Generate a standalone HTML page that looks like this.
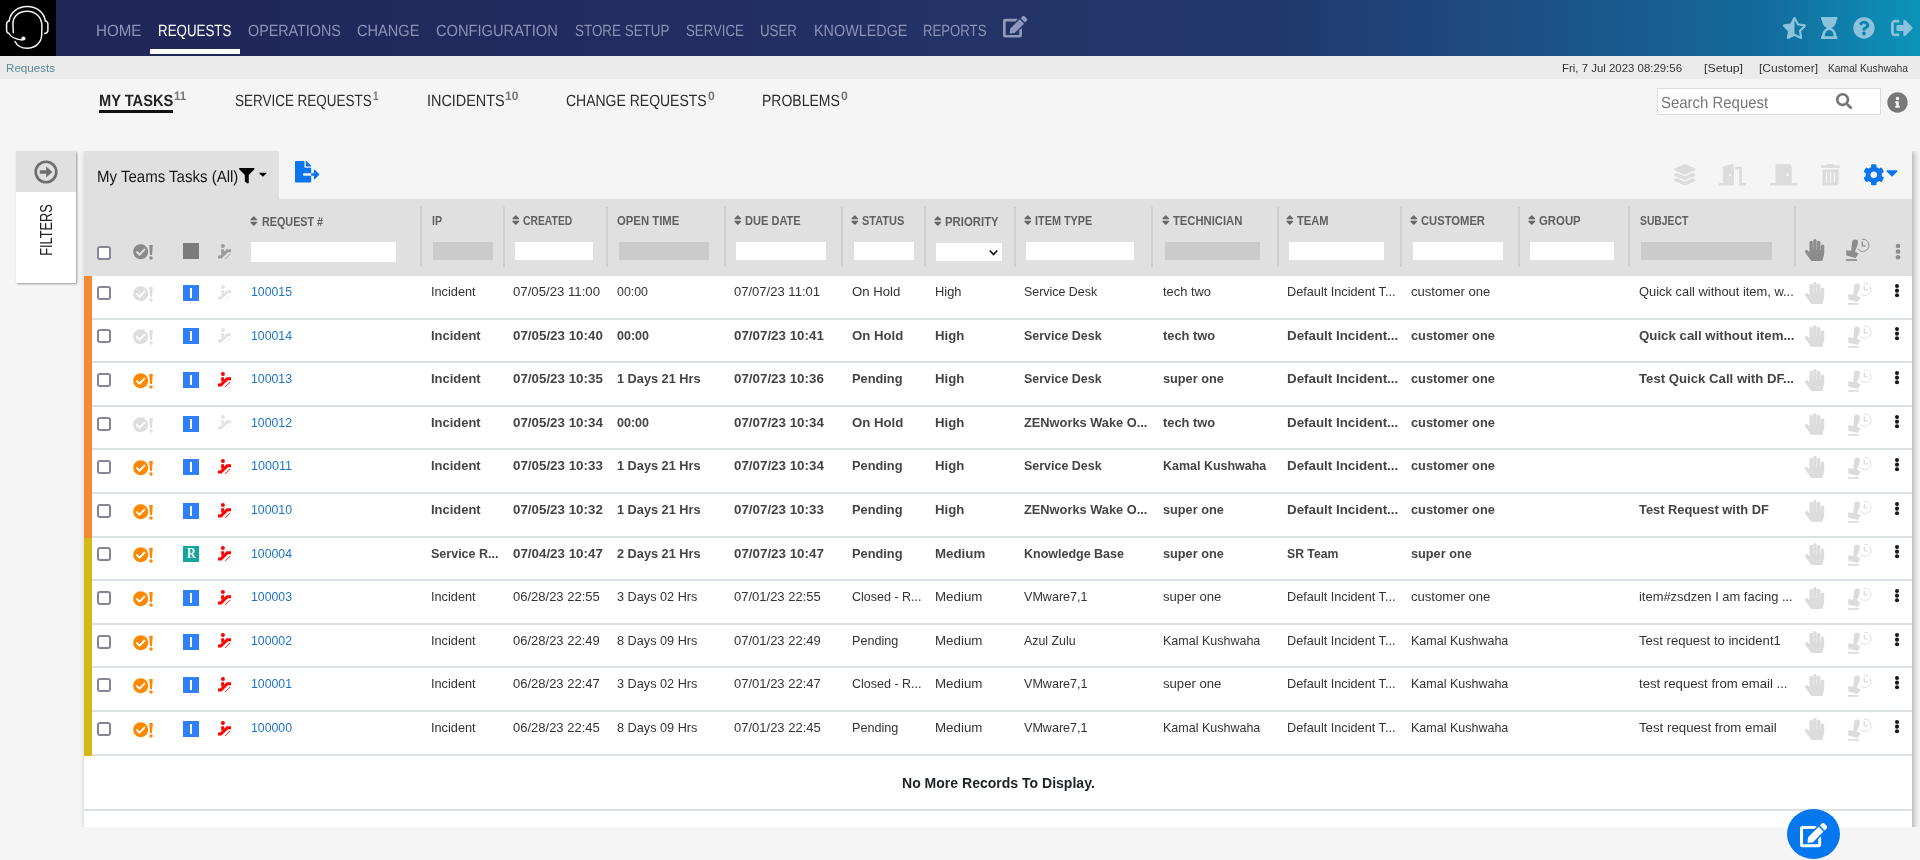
<!DOCTYPE html>
<html lang="en"><head><meta charset="utf-8"><title>Requests</title>
<style>
html,body{margin:0;padding:0}
body{width:1920px;height:860px;overflow:hidden;background:#f5f5f5;font-family:"Liberation Sans",sans-serif;position:relative}
.t{position:absolute;white-space:nowrap;line-height:1;transform-origin:0 84.65%;display:block}
.gp{text-rendering:geometricPrecision}
.i{position:absolute;display:block;overflow:visible}
.b{position:absolute;box-sizing:border-box}
#app{position:absolute;left:0;top:0;width:1920px;height:860px;overflow:hidden;will-change:transform}
</style></head>
<body>
<div id="app">
<div class="b" style="left:0px;top:0px;width:1920px;height:56px;background:linear-gradient(90deg,#1f2656 0px,#212b5f 560px,#233368 1000px,#22386d 1280px,#1c5387 1560px,#136a9c 1760px,#0c93b8 1920px)"></div>
<div class="b" style="left:0px;top:0px;width:56px;height:56px;background:#000"></div>
<svg class="i" style="left:0;top:0" width="56" height="56" viewBox="0 0 56 56" fill="none" stroke="#f2f2f2" stroke-width="1.5" stroke-linecap="round" stroke-linejoin="round">
<path d="M9.1 20.9 C10.5 12 18 6.6 27.2 6.6 C36.5 6.600 43.800 12 45.400 20.900"/>
<path d="M45.4 20.9 C47.200 21.400 47.900 22.400 47.900 24 L47.900 30 C47.900 32.200 46.800 33.300 44.800 33.600"/>
<path d="M9.1 20.9 C7.300 21.500 6.600 22.500 6.600 24 L6.600 30.400 C6.600 32 7.600 33 9.100 33.500 C10.800 37.200 15.500 39.300 22 39.900"/>
<path d="M13.3 32.8 L12.900 23.500 C13.300 15.500 19.500 11.200 27.200 11.200 C35.500 11.200 41.900 17 41.900 26 L41.700 35 C41.300 43 35 48.200 27.200 48.200 C21.500 48.200 17 45.500 15 41.500"/>
<circle cx="23.4" cy="38.500" r="2.100" fill="#f2f2f2" stroke="none"/>
</svg>
<span class="t gp" style="left:96.00px;top:23.20px;font-size:16.3px;color:#8c93b5;transform:scale(0.9305,1);">HOME</span>
<span class="t gp" style="left:158.00px;top:23.20px;font-size:16.3px;color:#ffffff;transform:scale(0.8197,1);">REQUESTS</span>
<span class="t gp" style="left:247.50px;top:23.20px;font-size:16.3px;color:#8c93b5;transform:scale(0.8801,1);">OPERATIONS</span>
<span class="t gp" style="left:356.50px;top:23.20px;font-size:16.3px;color:#8c93b5;transform:scale(0.8962,1);">CHANGE</span>
<span class="t gp" style="left:435.50px;top:23.20px;font-size:16.3px;color:#8c93b5;transform:scale(0.9002,1);">CONFIGURATION</span>
<span class="t gp" style="left:574.50px;top:23.20px;font-size:16.3px;color:#8c93b5;transform:scale(0.8237,1);">STORE SETUP</span>
<span class="t gp" style="left:686.00px;top:23.20px;font-size:16.3px;color:#8c93b5;transform:scale(0.8139,1);">SERVICE</span>
<span class="t gp" style="left:760.00px;top:23.20px;font-size:16.3px;color:#8c93b5;transform:scale(0.8170,1);">USER</span>
<span class="t gp" style="left:813.50px;top:23.20px;font-size:16.3px;color:#8c93b5;transform:scale(0.8823,1);">KNOWLEDGE</span>
<span class="t gp" style="left:923.00px;top:23.20px;font-size:16.3px;color:#8c93b5;transform:scale(0.8089,1);">REPORTS</span>
<div class="b" style="left:150px;top:49px;width:90px;height:5px;background:#fff"></div>
<svg class="i" style="left:1003.00px;top:16.20px;" width="24.30" height="21.60" viewBox="0 0 576 512"><path fill="#8f99bc" d="M402.6 83.2l90.2 90.2c3.8 3.8 3.8 10 0 13.8L274.4 405.6l-92.8 10.3c-12.4 1.4-22.9-9.1-21.5-21.5l10.3-92.8L388.8 83.2c3.8-3.8 10-3.8 13.8 0zm162-22.900l-48.8-48.8c-15.200-15.200-39.900-15.200-55.200 0l-35.400 35.400c-3.800 3.800-3.800 10 0 13.800l90.200 90.200c3.800 3.800 10 3.800 13.800 0l35.400-35.400c15.200-15.300 15.200-40 0-55.200zM384 346.200V448H64V128h229.800c3.200 0 6.200-1.300 8.500-3.500l40-40c7.600-7.600 2.200-20.500-8.500-20.500H48C21.500 64 0 85.500 0 112v352c0 26.500 21.500 48 48 48h352c26.500 0 48-21.500 48-48V306.200c0-10.700-12.900-16-20.500-8.500l-40 40c-2.200 2.300-3.500 5.300-3.500 8.500z"/></svg>
<svg class="i" style="left:1783.00px;top:17.00px;" width="23.03" height="22.00" viewBox="0 0 536 512"><path fill="#8cc3dc" d="M508.550 171.510L362.180 150.200 296.770 17.810C290.890 5.980 279.420 0 267.950 0c-11.400 0-22.790 5.900-28.690 17.810l-65.430 132.380-146.380 21.290c-26.250 3.800-36.770 36.090-17.740 54.590l105.890 103-25.060 145.480C86.980 495.330 103.570 512 122.150 512c4.930 0 10-1.170 14.870-3.750l130.950-68.680 130.940 68.700c4.860 2.550 9.920 3.710 14.830 3.710 18.600 0 35.220-16.610 31.660-37.400l-25.030-145.490 105.910-102.980c19.040-18.500 8.520-50.800-17.730-54.600zm-121.740 123.200l-18.120 17.620 4.280 24.880 19.520 113.450-102.130-53.590-22.380-11.740.030-317.190 51.030 103.290 11.180 22.630 25.010 3.640 114.230 16.630-82.650 80.380z"/></svg>
<svg class="i" style="left:1821.30px;top:17.00px;transform:scaleY(-1)" width="16.50" height="22.00" viewBox="0 0 384 512"><path fill="#8cc3dc" d="M360 64c13.255 0 24-10.745 24-24V24c0-13.255-10.745-24-24-24H24C10.745 0 0 10.745 0 24v16c0 13.255 10.745 24 24 24 0 90.965 51.016 167.734 120.842 192C75.016 280.266 24 357.035 24 448c-13.255 0-24 10.745-24 24v16c0 13.255 10.745 24 24 24h336c13.255 0 24-10.745 24-24v-16c0-13.255-10.745-24-24-24 0-90.965-51.016-167.734-120.842-192C308.984 231.734 360 154.965 360 64zM192 208c-57.787 0-104-66.518-104-144h208c0 77.945-46.510 144-104 144z"/></svg>
<svg class="i" style="left:1853.30px;top:17.20px;" width="22.00" height="22.00" viewBox="0 0 512 512"><path fill="#8cc3dc" d="M504 256c0 136.997-111.043 248-248 248S8 392.997 8 256C8 119.083 119.043 8 256 8s248 111.083 248 248zM262.655 90c-54.497 0-89.255 22.957-116.549 63.758-3.536 5.286-2.353 12.415 2.715 16.258l34.699 26.310c5.205 3.947 12.621 3.008 16.665-2.122 17.864-22.658 30.113-35.797 57.303-35.797 20.429 0 45.698 13.148 45.698 32.958 0 14.976-12.363 22.667-32.534 33.976C247.128 238.528 216 254.941 216 296v4c0 6.627 5.373 12 12 12h56c6.627 0 12-5.373 12-12v-1.333c0-28.462 83.186-29.647 83.186-106.667 0-58.002-60.165-102-116.531-102zM256 338c-25.365 0-46 20.635-46 46 0 25.364 20.635 46 46 46s46-20.636 46-46c0-25.365-20.635-46-46-46z"/></svg>
<svg class="i" style="left:1890.50px;top:17.00px;" width="22.00" height="22.00" viewBox="0 0 512 512"><path fill="#8cc3dc" d="M497 273L329 441c-15 15-41 4.500-41-17v-96H152c-13.300 0-24-10.700-24-24v-96c0-13.300 10.700-24 24-24h136V88c0-21.400 25.900-32 41-17l168 168c9.300 9.400 9.300 24.600 0 34zM192 436v-40c0-6.600-5.400-12-12-12H96c-17.700 0-32-14.300-32-32V160c0-17.700 14.300-32 32-32h84c6.600 0 12-5.400 12-12V76c0-6.600-5.400-12-12-12H96c-53 0-96 43-96 96v192c0 53 43 96 96 96h84c6.600 0 12-5.400 12-12z"/></svg>
<div class="b" style="left:0px;top:56px;width:1920px;height:23px;background:#ebebeb"></div>
<span class="t " style="left:6.00px;top:63.27px;font-size:11.5px;color:#5b8a9c;transform:scale(1.0086,1);">Requests</span>
<span class="t " style="left:1562.00px;top:62.99px;font-size:11px;color:#333;transform:scale(1.0382,1);">Fri, 7 Jul 2023 08:29:56</span>
<span class="t " style="left:1704.00px;top:62.99px;font-size:11px;color:#333;transform:scale(1.1188,1);">[Setup]</span>
<span class="t " style="left:1759.00px;top:62.99px;font-size:11px;color:#333;transform:scale(1.0968,1);">[Customer]</span>
<span class="t " style="left:1828.00px;top:62.99px;font-size:11px;color:#333;transform:scale(0.9345,1);">Kamal Kushwaha</span>
<span class="t gp" style="left:98.70px;top:93.20px;font-size:16.3px;color:#222;font-weight:bold;transform:scale(0.8982,1);">MY TASKS</span>
<div class="b" style="left:99px;top:110px;width:74px;height:3px;background:#111"></div>
<span class="t gp" style="left:173.80px;top:89.67px;font-size:12.2px;color:#757575;font-weight:bold;transform:scale(0.9459,1);">11</span>
<span class="t gp" style="left:234.70px;top:93.20px;font-size:16.3px;color:#2b2b2b;transform:scale(0.8268,1);">SERVICE REQUESTS</span>
<span class="t gp" style="left:372.60px;top:89.67px;font-size:12.2px;color:#757575;font-weight:bold;transform:scale(0.8106,1);">1</span>
<span class="t gp" style="left:426.70px;top:93.20px;font-size:16.3px;color:#2b2b2b;transform:scale(0.8856,1);">INCIDENTS</span>
<span class="t gp" style="left:505.20px;top:89.67px;font-size:12.2px;color:#757575;font-weight:bold;transform:scale(0.9801,1);">10</span>
<span class="t gp" style="left:566.20px;top:93.20px;font-size:16.3px;color:#2b2b2b;transform:scale(0.8589,1);">CHANGE REQUESTS</span>
<span class="t gp" style="left:708.00px;top:89.67px;font-size:12.2px;color:#757575;font-weight:bold;transform:scale(1.0022,1);">0</span>
<span class="t gp" style="left:762.20px;top:93.20px;font-size:16.3px;color:#2b2b2b;transform:scale(0.8589,1);">PROBLEMS</span>
<span class="t gp" style="left:841.00px;top:89.67px;font-size:12.2px;color:#757575;font-weight:bold;transform:scale(1.0022,1);">0</span>
<div class="b" style="left:1657px;top:88px;width:224px;height:27px;background:#fff;border:1px solid #dcdcdc"></div>
<span class="t gp" style="left:1660.80px;top:95.20px;font-size:16.3px;color:#767676;transform:scale(0.9180,1);">Search Request</span>
<svg class="i" style="left:1836.20px;top:93.00px;" width="16.30" height="16.30" viewBox="0 0 512 512"><path fill="#747474" d="M505 442.7L405.3 343c-4.500-4.500-10.600-7-17-7H372c27.600-35.300 44-79.700 44-128C416 93.100 322.900 0 208 0S0 93.100 0 208s93.100 208 208 208c48.300 0 92.700-16.400 128-44v16.300c0 6.400 2.500 12.500 7 17l99.700 99.700c9.400 9.400 24.600 9.400 33.900 0l28.300-28.300c9.400-9.400 9.400-24.600.1-34zM208 336c-70.700 0-128-57.200-128-128 0-70.700 57.200-128 128-128 70.700 0 128 57.200 128 128 0 70.700-57.200 128-128 128z"/></svg>
<svg class="i" style="left:1886.70px;top:91.70px;" width="21.00" height="21.00" viewBox="0 0 512 512"><path fill="#787878" d="M256 8C119.043 8 8 119.083 8 256c0 136.997 111.043 248 248 248s248-111.003 248-248C504 119.083 392.957 8 256 8zm0 110c23.196 0 42 18.804 42 42s-18.804 42-42 42-42-18.804-42-42 18.804-42 42-42zm56 254c0 6.627-5.373 12-12 12h-88c-6.627 0-12-5.373-12-12v-24c0-6.627 5.373-12 12-12h12v-64h-12c-6.627 0-12-5.373-12-12v-24c0-6.627 5.373-12 12-12h64c6.627 0 12 5.373 12 12v100h12c6.627 0 12 5.373 12 12v24z"/></svg>
<div class="b" style="left:0;top:151px;width:1920px;height:676px;overflow:hidden"><div class="b" style="left:84px;top:0;width:1828px;height:700px;background:#f5f5f5;box-shadow:2px 0 6px rgba(0,0,0,.30)"></div></div>
<div class="b" style="left:16px;top:151px;width:60px;height:132px;background:#fff;box-shadow:1px 1px 2px rgba(0,0,0,.38)"></div>
<div class="b" style="left:16px;top:151px;width:60px;height:41px;background:#e0e0e0"></div>
<svg class="i" style="left:33.5px;top:160px" width="24" height="24" viewBox="0 0 24 24"><circle cx="12" cy="12" r="10.300" fill="none" stroke="#6e6e6e" stroke-width="2.600"/><path fill="#6e6e6e" d="M5.800 10.300h6.400V6.500L18.400 12l-6.200 5.500v-3.800H5.800z"/></svg>
<span class="t" style="left:45.500px;top:230.300px;font-size:16.500px;color:#222;transform-origin:0 0;transform:translate(-50%,-50%) rotate(-90deg) scaleX(0.7730);transform-origin:50% 50%">FILTERS</span>
<div class="b" style="left:84px;top:151px;width:195px;height:48px;background:#e0e0e0"></div>
<span class="t gp" style="left:97.00px;top:169.20px;font-size:16.3px;color:#151515;transform:scale(0.9226,1);">My Teams Tasks (All)</span>
<svg class="i" style="left:239.00px;top:168.00px;" width="15.60" height="15.60" viewBox="0 0 512 512"><path fill="#000" d="M487.976 0H24.028C2.710 0-8.047 25.866 7.058 40.971L192 225.941V432c0 7.831 3.821 15.170 10.237 19.662l80 55.980C298.020 518.690 320 507.493 320 487.980V225.941l184.947-184.970C520.021 25.896 509.338 0 487.976 0z"/></svg>
<svg class="i" style="left:259.10px;top:168.20px;" width="7.75" height="12.40" viewBox="0 0 320 512"><path fill="#000" d="M31.300 192h257.300c17.800 0 26.700 21.500 14.100 34.100L174.100 354.800c-7.800 7.800-20.500 7.800-28.300 0L17.200 226.100C4.600 213.500 13.500 192 31.300 192z"/></svg>
<svg class="i" style="left:294.80px;top:161.30px;" width="24.30" height="21.60" viewBox="0 0 576 512"><path fill="#0b74ee" d="M384 121.900c0-6.300-2.500-12.400-7-16.900L279.100 7c-4.500-4.500-10.600-7-17-7H256v128h128zM571 308l-95.700-96.400c-10.100-10.100-27.400-3-27.400 11.300V288h-64v64h64v65.200c0 14.300 17.300 21.400 27.400 11.300L571 332c6.600-6.600 6.600-17.400 0-24zm-379 28v-32c0-8.800 7.200-16 16-16h176V160H248c-13.200 0-24-10.800-24-24V0H24C10.700 0 0 10.700 0 24v464c0 13.300 10.700 24 24 24h336c13.300 0 24-10.700 24-24V352H208c-8.800 0-16-7.200-16-16z"/></svg>
<svg class="i" style="left:1674.00px;top:164.40px;" width="21.60" height="21.60" viewBox="0 0 512 512"><path fill="#dcdcdc" d="M12.410 148.020l232.940 105.670c6.800 3.090 14.490 3.090 21.290 0l232.940-105.670c16.550-7.510 16.550-32.520 0-40.030L266.650 2.310a25.607 25.607 0 0 0-21.290 0L12.410 107.980c-16.550 7.510-16.550 32.530 0 40.040zm487.180 88.280l-58.090-26.330-161.640 73.270c-7.560 3.430-15.590 5.170-23.860 5.170s-16.290-1.740-23.860-5.170L70.510 209.970l-58.100 26.330c-16.550 7.500-16.550 32.500 0 40l232.940 105.590c6.800 3.080 14.490 3.080 21.290 0L499.590 276.300c16.550-7.500 16.550-32.500 0-40zm0 127.800l-57.870-26.230-161.860 73.370c-7.560 3.430-15.590 5.170-23.860 5.170s-16.290-1.740-23.860-5.170L70.290 337.870 12.410 364.100c-16.550 7.500-16.550 32.500 0 40l232.940 105.590c6.800 3.080 14.490 3.080 21.290 0L499.590 404.100c16.550-7.500 16.550-32.500 0-40z"/></svg>
<svg class="i" style="left:1719.40px;top:164.40px;" width="27.00" height="21.60" viewBox="0 0 640 512"><path fill="#dcdcdc" d="M624 448h-80V113.450C544 86.190 522.470 64 496 64H384v64h96v384h144c8.840 0 16-7.160 16-16v-32c0-8.840-7.160-16-16-16zM312.240 1.010l-192 49.740C105.990 54.440 96 67.700 96 82.920V448H16c-8.840 0-16 7.160-16 16v32c0 8.840 7.160 16 16 16h336V33.180c0-21.580-19.560-37.410-39.760-32.170zM264 288c-13.250 0-24-14.330-24-32s10.750-32 24-32 24 14.330 24 32-10.750 32-24 32z"/></svg>
<svg class="i" style="left:1769.80px;top:164.40px;" width="27.00" height="21.60" viewBox="0 0 640 512"><path fill="#dcdcdc" d="M624 448H512V50.800C512 22.780 490.470 0 464 0H175.990c-26.470 0-48 22.780-48 50.800V448H16c-8.840 0-16 7.160-16 16v32c0 8.840 7.160 16 16 16h608c8.840 0 16-7.160 16-16v-32c0-8.840-7.160-16-16-16zM415.990 288c-17.670 0-32-14.330-32-32s14.330-32 32-32 32 14.330 32 32c.010 17.670-14.320 32-32 32z"/></svg>
<svg class="i" style="left:1820.80px;top:164.40px;" width="18.90" height="21.60" viewBox="0 0 448 512"><path fill="#dcdcdc" d="M32 464a48 48 0 0 0 48 48h288a48 48 0 0 0 48-48V128H32zm272-256a16 16 0 0 1 32 0v224a16 16 0 0 1-32 0zm-96 0a16 16 0 0 1 32 0v224a16 16 0 0 1-32 0zm-96 0a16 16 0 0 1 32 0v224a16 16 0 0 1-32 0zM432 32H312l-9.400-18.700A24 24 0 0 0 281.100 0H166.800a23.720 23.720 0 0 0-21.400 13.300L136 32H16A16 16 0 0 0 0 48v32a16 16 0 0 0 16 16h416a16 16 0 0 0 16-16V48a16 16 0 0 0-16-16z"/></svg>
<svg class="i" style="left:1863.40px;top:164.40px;" width="21.60" height="21.60" viewBox="0 0 512 512"><path fill="#0b74ee" d="M487.400 315.700l-42.600-24.600c4.300-23.200 4.300-47 0-70.200l42.600-24.600c4.900-2.800 7.100-8.600 5.500-14-11.100-35.600-30-67.800-54.700-94.600-3.800-4.100-10-5.100-14.800-2.300L380.800 110c-17.900-15.400-38.500-27.300-60.800-35.100V25.800c0-5.600-3.900-10.500-9.400-11.700-36.700-8.200-74.300-7.800-109.200 0-5.500 1.200-9.400 6.100-9.400 11.700V75c-22.200 7.900-42.800 19.800-60.800 35.100L88.700 85.500c-4.900-2.800-11-1.900-14.800 2.300-24.700 26.700-43.600 58.900-54.700 94.600-1.700 5.400.6 11.200 5.500 14L67.300 221c-4.300 23.200-4.300 47 0 70.200l-42.600 24.600c-4.900 2.800-7.100 8.600-5.500 14 11.100 35.600 30 67.800 54.700 94.600 3.800 4.100 10 5.100 14.800 2.300l42.600-24.600c17.900 15.400 38.500 27.300 60.800 35.100v49.200c0 5.600 3.900 10.500 9.400 11.700 36.700 8.200 74.300 7.800 109.200 0 5.500-1.200 9.400-6.100 9.400-11.700v-49.200c22.200-7.900 42.800-19.800 60.800-35.100l42.600 24.600c4.900 2.800 11 1.900 14.800-2.300 24.700-26.700 43.600-58.900 54.700-94.600 1.500-5.500-.7-11.300-5.600-14.100zM256 336c-44.100 0-80-35.900-80-80s35.900-80 80-80 80 35.900 80 80-35.900 80-80 80z"/></svg>
<svg class="i" style="left:1885.50px;top:163.40px;" width="12.00" height="19.20" viewBox="0 0 320 512"><path fill="#0b74ee" d="M31.300 192h257.300c17.800 0 26.700 21.500 14.100 34.100L174.100 354.800c-7.800 7.800-20.500 7.800-28.300 0L17.200 226.100C4.600 213.500 13.500 192 31.300 192z"/></svg>
<div class="b" style="left:84px;top:199px;width:1828px;height:77px;background:#e0e0e0"></div>
<div class="b" style="left:420px;top:207px;width:2px;height:60px;background:#cfcfcf"></div>
<div class="b" style="left:503px;top:207px;width:2px;height:60px;background:#cfcfcf"></div>
<div class="b" style="left:606px;top:207px;width:2px;height:60px;background:#cfcfcf"></div>
<div class="b" style="left:724px;top:207px;width:2px;height:60px;background:#cfcfcf"></div>
<div class="b" style="left:841px;top:207px;width:2px;height:60px;background:#cfcfcf"></div>
<div class="b" style="left:924px;top:207px;width:2px;height:60px;background:#cfcfcf"></div>
<div class="b" style="left:1014px;top:207px;width:2px;height:60px;background:#cfcfcf"></div>
<div class="b" style="left:1151px;top:207px;width:2px;height:60px;background:#cfcfcf"></div>
<div class="b" style="left:1277px;top:207px;width:2px;height:60px;background:#cfcfcf"></div>
<div class="b" style="left:1400px;top:207px;width:2px;height:60px;background:#cfcfcf"></div>
<div class="b" style="left:1518px;top:207px;width:2px;height:60px;background:#cfcfcf"></div>
<div class="b" style="left:1628px;top:207px;width:2px;height:60px;background:#cfcfcf"></div>
<div class="b" style="left:1794px;top:207px;width:2px;height:60px;background:#cfcfcf"></div>
<svg class="i" style="left:250.10px;top:215.40px;" width="7.62" height="12.20" viewBox="0 0 320 512"><path fill="#666" d="M41 288h238c21.400 0 32.100 25.900 17 41L177 448c-9.400 9.400-24.600 9.400-33.900 0L24 329c-15.100-15.100-4.400-41 17-41zm255-105L177 64c-9.400-9.400-24.600-9.400-33.900 0L24 183c-15.100 15.100-4.400 41 17 41h238c21.400 0 32.100-25.900 17-41z"/></svg>
<span class="t " style="left:262.00px;top:216.33px;font-size:12.6px;color:#5f5f5f;font-weight:bold;transform:scale(0.8555,1);">REQUEST #</span>
<span class="t " style="left:431.50px;top:215.33px;font-size:12.6px;color:#5f5f5f;font-weight:bold;transform:scale(0.8400,1);">IP</span>
<svg class="i" style="left:512.40px;top:214.40px;" width="7.62" height="12.20" viewBox="0 0 320 512"><path fill="#666" d="M41 288h238c21.400 0 32.100 25.900 17 41L177 448c-9.400 9.400-24.600 9.400-33.900 0L24 329c-15.100-15.100-4.400-41 17-41zm255-105L177 64c-9.400-9.400-24.600-9.400-33.900 0L24 183c-15.100 15.100-4.400 41 17 41h238c21.400 0 32.100-25.900 17-41z"/></svg>
<span class="t " style="left:523.40px;top:215.33px;font-size:12.6px;color:#5f5f5f;font-weight:bold;transform:scale(0.8221,1);">CREATED</span>
<span class="t " style="left:617.20px;top:215.33px;font-size:12.6px;color:#5f5f5f;font-weight:bold;transform:scale(0.8989,1);">OPEN TIME</span>
<svg class="i" style="left:734.10px;top:214.40px;" width="7.62" height="12.20" viewBox="0 0 320 512"><path fill="#666" d="M41 288h238c21.400 0 32.100 25.900 17 41L177 448c-9.400 9.400-24.600 9.400-33.900 0L24 329c-15.100-15.100-4.400-41 17-41zm255-105L177 64c-9.400-9.400-24.600-9.400-33.900 0L24 183c-15.100 15.100-4.400 41 17 41h238c21.400 0 32.100-25.900 17-41z"/></svg>
<span class="t " style="left:744.70px;top:215.33px;font-size:12.6px;color:#5f5f5f;font-weight:bold;transform:scale(0.8776,1);">DUE DATE</span>
<svg class="i" style="left:851.40px;top:214.40px;" width="7.62" height="12.20" viewBox="0 0 320 512"><path fill="#666" d="M41 288h238c21.400 0 32.100 25.900 17 41L177 448c-9.400 9.400-24.600 9.400-33.900 0L24 329c-15.100-15.100-4.400-41 17-41zm255-105L177 64c-9.400-9.400-24.600-9.400-33.900 0L24 183c-15.100 15.100-4.400 41 17 41h238c21.400 0 32.100-25.900 17-41z"/></svg>
<span class="t " style="left:861.70px;top:215.33px;font-size:12.6px;color:#5f5f5f;font-weight:bold;transform:scale(0.8737,1);">STATUS</span>
<svg class="i" style="left:934.40px;top:215.40px;" width="7.62" height="12.20" viewBox="0 0 320 512"><path fill="#666" d="M41 288h238c21.400 0 32.100 25.900 17 41L177 448c-9.400 9.400-24.600 9.400-33.900 0L24 329c-15.100-15.100-4.400-41 17-41zm255-105L177 64c-9.400-9.400-24.600-9.400-33.900 0L24 183c-15.100 15.100-4.400 41 17 41h238c21.400 0 32.100-25.900 17-41z"/></svg>
<span class="t " style="left:944.70px;top:216.33px;font-size:12.6px;color:#5f5f5f;font-weight:bold;transform:scale(0.9024,1);">PRIORITY</span>
<svg class="i" style="left:1023.80px;top:214.40px;" width="7.62" height="12.20" viewBox="0 0 320 512"><path fill="#666" d="M41 288h238c21.400 0 32.100 25.900 17 41L177 448c-9.400 9.400-24.600 9.400-33.900 0L24 329c-15.100-15.100-4.400-41 17-41zm255-105L177 64c-9.400-9.400-24.600-9.400-33.900 0L24 183c-15.100 15.100-4.400 41 17 41h238c21.400 0 32.100-25.900 17-41z"/></svg>
<span class="t " style="left:1034.70px;top:215.33px;font-size:12.6px;color:#5f5f5f;font-weight:bold;transform:scale(0.8631,1);">ITEM TYPE</span>
<svg class="i" style="left:1161.80px;top:214.40px;" width="7.62" height="12.20" viewBox="0 0 320 512"><path fill="#666" d="M41 288h238c21.400 0 32.100 25.900 17 41L177 448c-9.400 9.400-24.600 9.400-33.900 0L24 329c-15.100-15.100-4.400-41 17-41zm255-105L177 64c-9.400-9.400-24.600-9.400-33.900 0L24 183c-15.100 15.100-4.400 41 17 41h238c21.400 0 32.100-25.900 17-41z"/></svg>
<span class="t " style="left:1172.70px;top:215.33px;font-size:12.6px;color:#5f5f5f;font-weight:bold;transform:scale(0.8932,1);">TECHNICIAN</span>
<svg class="i" style="left:1285.80px;top:214.40px;" width="7.62" height="12.20" viewBox="0 0 320 512"><path fill="#666" d="M41 288h238c21.400 0 32.100 25.900 17 41L177 448c-9.400 9.400-24.600 9.400-33.900 0L24 329c-15.100-15.100-4.400-41 17-41zm255-105L177 64c-9.400-9.400-24.600-9.400-33.900 0L24 183c-15.100 15.100-4.400 41 17 41h238c21.400 0 32.100-25.900 17-41z"/></svg>
<span class="t " style="left:1296.70px;top:215.33px;font-size:12.6px;color:#5f5f5f;font-weight:bold;transform:scale(0.8796,1);">TEAM</span>
<svg class="i" style="left:1410.40px;top:214.40px;" width="7.62" height="12.20" viewBox="0 0 320 512"><path fill="#666" d="M41 288h238c21.400 0 32.100 25.900 17 41L177 448c-9.400 9.400-24.600 9.400-33.900 0L24 329c-15.100-15.100-4.400-41 17-41zm255-105L177 64c-9.400-9.400-24.600-9.400-33.900 0L24 183c-15.100 15.100-4.400 41 17 41h238c21.400 0 32.100-25.900 17-41z"/></svg>
<span class="t " style="left:1421.40px;top:215.33px;font-size:12.6px;color:#5f5f5f;font-weight:bold;transform:scale(0.8905,1);">CUSTOMER</span>
<svg class="i" style="left:1528.10px;top:214.40px;" width="7.62" height="12.20" viewBox="0 0 320 512"><path fill="#666" d="M41 288h238c21.400 0 32.100 25.900 17 41L177 448c-9.400 9.400-24.600 9.400-33.900 0L24 329c-15.100-15.100-4.400-41 17-41zm255-105L177 64c-9.400-9.400-24.600-9.400-33.900 0L24 183c-15.100 15.100-4.400 41 17 41h238c21.400 0 32.100-25.900 17-41z"/></svg>
<span class="t " style="left:1538.70px;top:215.33px;font-size:12.6px;color:#5f5f5f;font-weight:bold;transform:scale(0.9025,1);">GROUP</span>
<span class="t " style="left:1639.50px;top:215.33px;font-size:12.6px;color:#5f5f5f;font-weight:bold;transform:scale(0.8213,1);">SUBJECT</span>
<div class="b" style="left:251px;top:242px;width:145px;height:20px;background:#fff"></div>
<div class="b" style="left:433px;top:242px;width:60px;height:18px;background:#cbcbcb"></div>
<div class="b" style="left:515px;top:242px;width:78px;height:18px;background:#fff"></div>
<div class="b" style="left:619px;top:242px;width:90px;height:18px;background:#cbcbcb"></div>
<div class="b" style="left:736px;top:242px;width:90px;height:18px;background:#fff"></div>
<div class="b" style="left:854px;top:242px;width:60px;height:18px;background:#fff"></div>
<div class="b" style="left:1026px;top:242px;width:108px;height:18px;background:#fff"></div>
<div class="b" style="left:1165px;top:242px;width:95px;height:18px;background:#cbcbcb"></div>
<div class="b" style="left:1289px;top:242px;width:95px;height:18px;background:#fff"></div>
<div class="b" style="left:1413px;top:242px;width:90px;height:18px;background:#fff"></div>
<div class="b" style="left:1530px;top:242px;width:84px;height:18px;background:#fff"></div>
<div class="b" style="left:1641px;top:242px;width:131px;height:18px;background:#cbcbcb"></div>
<div class="b" style="left:936px;top:243px;width:66px;height:18px;background:#fff"></div>
<svg class="i" style="left:987.500px;top:248.800px" width="11" height="8" viewBox="0 0 11 8"><path d="M1.800 1.500L5.500 5.500 9.200 1.500" fill="none" stroke="#111" stroke-width="1.600"/></svg>
<div class="b" style="left:97.3px;top:246.3px;width:13.5px;height:13.5px;background:#fff;border:2px solid #85859a;border-radius:3px"></div>
<svg class="i" style="left:132.80px;top:244.20px;" width="15.40" height="15.40" viewBox="0 0 512 512"><path fill="#8a8a8a" d="M504 256c0 136.967-111.033 248-248 248S8 392.967 8 256 119.033 8 256 8s248 111.033 248 248zM227.314 387.314l184-184c6.248-6.248 6.248-16.379 0-22.627l-22.627-22.627c-6.248-6.249-16.379-6.249-22.628 0L216 308.118l-70.059-70.059c-6.248-6.248-16.379-6.248-22.628 0l-22.627 22.627c-6.248 6.248-6.248 16.379 0 22.627l104 104c6.249 6.249 16.379 6.249 22.628.001z"/></svg>
<svg class="i" style="left:149.2px;top:244.7px" width="4" height="15" viewBox="0 0 4 15"><path fill="#8a8a8a" d="M0.200 0h3.600L3 10H1z"/><circle cx="2" cy="12.900" r="1.750" fill="#8a8a8a"/></svg>
<div class="b" style="left:183px;top:243px;width:16px;height:16px;background:#7b7b7b"></div>
<svg class="i" style="left:218px;top:243.8px" width="13" height="16" viewBox="0 0 13 16"><circle cx="4.900" cy="2.100" r="2" fill="#9a9a9a"/><path fill="#9a9a9a" d="M3.200 5.300h2.900v2.600L4.300 9.800l-1.100-.3z"/><path fill="#9a9a9a" d="M0 11.500h2.300L8.600 5.200H13v3H9.800L3.500 14.500H0z"/><path d="M7.200 15L12.300 9.900" stroke="#9a9a9a" stroke-width="0.900" fill="none"/></svg>
<svg class="i" style="left:1804.80px;top:239.00px;" width="19.25" height="22.00" viewBox="0 0 448 512"><path fill="#8c8c8c" d="M408.781 128.007C386.356 127.578 368 146.360 368 168.790V256h-8V79.790c0-22.430-18.356-41.212-40.781-40.783C297.488 39.423 280 57.169 280 79v177h-8V40.790C272 18.360 253.644-.422 231.219.007 209.488.423 192 18.169 192 40v216h-8V80.790c0-22.430-18.356-41.212-40.781-40.783C121.488 40.423 104 58.169 104 80v235.992l-31.648-43.519c-12.993-17.866-38.009-21.817-55.877-8.823-17.865 12.994-21.815 38.010-8.822 55.877l125.601 172.705A48 48 0 0 0 172.073 512h197.590c22.274 0 41.622-15.324 46.724-37.006l26.508-112.660a192.011 192.011 0 0 0 5.104-43.975V168c.001-21.831-17.487-39.577-39.218-39.993z"/></svg>
<svg class="i" style="left:1840px;top:234px" width="36" height="32" viewBox="0 0 36 32"><path fill="#8c8c8c" d="M12.100 8.200Q12.200 5.500 15.100 5.500Q18.200 5.600 18 8.500C17.600 12 15.900 15 14.900 17.500L18.600 19.500L15.600 24L6.300 21.600L6.100 16.200L11.200 16.700Z"/><rect x="5.950" y="25.100" width="11" height="1.700" fill="#8c8c8c"/><path d="M22.170 5.340A6 6 0 1 1 17.980 14.740" fill="none" stroke="#8c8c8c" stroke-width="0.950"/><path d="M22.300 7.400V11.900H25.800" fill="none" stroke="#8c8c8c" stroke-width="1.400"/></svg>
<svg class="i" style="left:1894.6px;top:243.4px" width="6" height="17.2" viewBox="0 0 6 17.2"><circle cx="3" cy="3" r="2.3" fill="#8c8c8c"/><circle cx="3" cy="8.6" r="2.3" fill="#8c8c8c"/><circle cx="3" cy="14.2" r="2.3" fill="#8c8c8c"/></svg>
<div class="b" style="left:84px;top:276px;width:1828px;height:551px;background:#fff"></div>
<div class="b" style="left:88px;top:275px;width:1824px;height:1px;background:#d9dfe6"></div>
<div class="b" style="left:84px;top:276px;width:8px;height:44px;background:#f58a34"></div>
<div class="b" style="left:92px;top:318px;width:1820px;height:2px;background:#dce1e6"></div>
<div class="b" style="left:97.3px;top:286px;width:13.5px;height:13.5px;background:#fff;border:2px solid #85859a;border-radius:3px"></div>
<svg class="i" style="left:132.80px;top:286.00px;" width="15.40" height="15.40" viewBox="0 0 512 512"><path fill="#dedede" d="M504 256c0 136.967-111.033 248-248 248S8 392.967 8 256 119.033 8 256 8s248 111.033 248 248zM227.314 387.314l184-184c6.248-6.248 6.248-16.379 0-22.627l-22.627-22.627c-6.248-6.249-16.379-6.249-22.628 0L216 308.118l-70.059-70.059c-6.248-6.248-16.379-6.248-22.628 0l-22.627 22.627c-6.248 6.248-6.248 16.379 0 22.627l104 104c6.249 6.249 16.379 6.249 22.628.001z"/></svg>
<svg class="i" style="left:149.2px;top:286.5px" width="4" height="15" viewBox="0 0 4 15"><path fill="#dedede" d="M0.200 0h3.600L3 10H1z"/><circle cx="2" cy="12.900" r="1.750" fill="#dedede"/></svg>
<div class="b" style="left:183px;top:285px;width:16px;height:16px;background:#2f80fa"></div>
<div class="b" style="left:189.7px;top:288px;width:2px;height:10px;background:#fff"></div>
<svg class="i" style="left:218px;top:285px" width="13" height="16" viewBox="0 0 13 16"><circle cx="4.900" cy="2.100" r="2" fill="#e2e2e2"/><path fill="#e2e2e2" d="M3.200 5.300h2.900v2.600L4.300 9.800l-1.100-.3z"/><path fill="#e2e2e2" d="M0 11.500h2.300L8.600 5.200H13v3H9.800L3.500 14.500H0z"/><path d="M7.200 15L12.300 9.900" stroke="#e2e2e2" stroke-width="0.900" fill="none"/></svg>
<span class="t " style="left:251.30px;top:285.10px;font-size:13px;color:#1b75cc;transform:scale(0.9451,1);">100015</span>
<span class="t " style="left:431.20px;top:285.10px;font-size:13px;color:#333;transform:scale(0.9795,1);">Incident</span>
<span class="t " style="left:513.00px;top:285.10px;font-size:13px;color:#333;transform:scale(1.0142,1);">07/05/23 11:00</span>
<span class="t " style="left:617.00px;top:285.10px;font-size:13px;color:#333;transform:scale(0.9529,1);">00:00</span>
<span class="t " style="left:734.00px;top:285.10px;font-size:13px;color:#333;transform:scale(1.0025,1);">07/07/23 11:01</span>
<span class="t " style="left:852.30px;top:285.10px;font-size:13px;color:#333;transform:scale(1.0128,1);">On Hold</span>
<span class="t " style="left:935.20px;top:285.10px;font-size:13px;color:#333;transform:scale(0.9911,1);">High</span>
<span class="t " style="left:1024.20px;top:285.10px;font-size:13px;color:#333;transform:scale(0.9546,1);">Service Desk</span>
<span class="t " style="left:1163.20px;top:285.10px;font-size:13px;color:#333;transform:scale(0.9914,1);">tech two</span>
<span class="t " style="left:1287.30px;top:285.10px;font-size:13px;color:#333;transform:scale(0.9770,1);">Default Incident T...</span>
<span class="t " style="left:1411.20px;top:285.10px;font-size:13px;color:#333;transform:scale(1.0055,1);">customer one</span>
<span class="t " style="left:1639.00px;top:285.10px;font-size:13px;color:#333;transform:scale(0.9919,1);">Quick call without item, w...</span>
<svg class="i" style="left:1805.00px;top:282.00px;" width="19.25" height="22.00" viewBox="0 0 448 512"><path fill="#dcdcdc" d="M408.781 128.007C386.356 127.578 368 146.360 368 168.790V256h-8V79.790c0-22.430-18.356-41.212-40.781-40.783C297.488 39.423 280 57.169 280 79v177h-8V40.790C272 18.360 253.644-.422 231.219.007 209.488.423 192 18.169 192 40v216h-8V80.790c0-22.430-18.356-41.212-40.781-40.783C121.488 40.423 104 58.169 104 80v235.992l-31.648-43.519c-12.993-17.866-38.009-21.817-55.877-8.823-17.865 12.994-21.815 38.010-8.822 55.877l125.601 172.705A48 48 0 0 0 172.073 512h197.590c22.274 0 41.622-15.324 46.724-37.006l26.508-112.660a192.011 192.011 0 0 0 5.104-43.975V168c.001-21.831-17.487-39.577-39.218-39.993z"/></svg>
<svg class="i" style="left:1841.8px;top:278px" width="36" height="32" viewBox="0 0 36 32"><path fill="#dcdcdc" d="M12.100 8.200Q12.200 5.500 15.100 5.500Q18.200 5.600 18 8.500C17.600 12 15.900 15 14.900 17.500L18.600 19.500L15.600 24L6.300 21.600L6.100 16.200L11.200 16.700Z"/><rect x="5.950" y="25.100" width="11" height="1.700" fill="#dcdcdc"/><path d="M22.170 5.340A6 6 0 1 1 17.980 14.740" fill="none" stroke="#dcdcdc" stroke-width="0.950"/><path d="M22.300 7.400V11.900H25.800" fill="none" stroke="#dcdcdc" stroke-width="1.400"/></svg>
<svg class="i" style="left:1894.1px;top:283.35px" width="6" height="15.3" viewBox="0 0 6 15.3"><circle cx="3" cy="3" r="2.05" fill="#16181b"/><circle cx="3" cy="7.65" r="2.05" fill="#16181b"/><circle cx="3" cy="12.3" r="2.05" fill="#16181b"/></svg>
<div class="b" style="left:84px;top:320px;width:8px;height:43px;background:#f58a34"></div>
<div class="b" style="left:92px;top:361px;width:1820px;height:2px;background:#dce1e6"></div>
<div class="b" style="left:97.3px;top:329px;width:13.5px;height:13.5px;background:#fff;border:2px solid #85859a;border-radius:3px"></div>
<svg class="i" style="left:132.80px;top:329.00px;" width="15.40" height="15.40" viewBox="0 0 512 512"><path fill="#dedede" d="M504 256c0 136.967-111.033 248-248 248S8 392.967 8 256 119.033 8 256 8s248 111.033 248 248zM227.314 387.314l184-184c6.248-6.248 6.248-16.379 0-22.627l-22.627-22.627c-6.248-6.249-16.379-6.249-22.628 0L216 308.118l-70.059-70.059c-6.248-6.248-16.379-6.248-22.628 0l-22.627 22.627c-6.248 6.248-6.248 16.379 0 22.627l104 104c6.249 6.249 16.379 6.249 22.628.001z"/></svg>
<svg class="i" style="left:149.2px;top:329.5px" width="4" height="15" viewBox="0 0 4 15"><path fill="#dedede" d="M0.200 0h3.600L3 10H1z"/><circle cx="2" cy="12.900" r="1.750" fill="#dedede"/></svg>
<div class="b" style="left:183px;top:328px;width:16px;height:16px;background:#2f80fa"></div>
<div class="b" style="left:189.7px;top:331px;width:2px;height:10px;background:#fff"></div>
<svg class="i" style="left:218px;top:328px" width="13" height="16" viewBox="0 0 13 16"><circle cx="4.900" cy="2.100" r="2" fill="#e2e2e2"/><path fill="#e2e2e2" d="M3.200 5.300h2.900v2.600L4.300 9.800l-1.100-.3z"/><path fill="#e2e2e2" d="M0 11.500h2.300L8.600 5.200H13v3H9.800L3.500 14.500H0z"/><path d="M7.200 15L12.300 9.900" stroke="#e2e2e2" stroke-width="0.900" fill="none"/></svg>
<span class="t " style="left:251.30px;top:329.10px;font-size:13px;color:#1b75cc;transform:scale(0.9451,1);">100014</span>
<span class="t " style="left:431.20px;top:329.10px;font-size:13px;color:#444;font-weight:bold;transform:scale(0.9952,1);">Incident</span>
<span class="t " style="left:513.00px;top:329.10px;font-size:13px;color:#444;font-weight:bold;transform:scale(1.0267,1);">07/05/23 10:40</span>
<span class="t " style="left:617.00px;top:329.10px;font-size:13px;color:#444;font-weight:bold;transform:scale(0.9624,1);">00:00</span>
<span class="t " style="left:734.00px;top:329.10px;font-size:13px;color:#444;font-weight:bold;transform:scale(1.0267,1);">07/07/23 10:41</span>
<span class="t " style="left:852.30px;top:329.10px;font-size:13px;color:#444;font-weight:bold;transform:scale(1.0149,1);">On Hold</span>
<span class="t " style="left:935.20px;top:329.10px;font-size:13px;color:#444;font-weight:bold;transform:scale(1.0144,1);">High</span>
<span class="t " style="left:1024.20px;top:329.10px;font-size:13px;color:#444;font-weight:bold;transform:scale(0.9586,1);">Service Desk</span>
<span class="t " style="left:1163.20px;top:329.10px;font-size:13px;color:#444;font-weight:bold;transform:scale(0.9900,1);">tech two</span>
<span class="t " style="left:1287.30px;top:329.10px;font-size:13px;color:#444;font-weight:bold;transform:scale(1.0263,1);">Default Incident...</span>
<span class="t " style="left:1411.20px;top:329.10px;font-size:13px;color:#444;font-weight:bold;transform:scale(0.9830,1);">customer one</span>
<span class="t " style="left:1639.00px;top:329.10px;font-size:13px;color:#444;font-weight:bold;transform:scale(1.0202,1);">Quick call without item...</span>
<svg class="i" style="left:1805.00px;top:325.00px;" width="19.25" height="22.00" viewBox="0 0 448 512"><path fill="#dcdcdc" d="M408.781 128.007C386.356 127.578 368 146.360 368 168.790V256h-8V79.790c0-22.430-18.356-41.212-40.781-40.783C297.488 39.423 280 57.169 280 79v177h-8V40.790C272 18.360 253.644-.422 231.219.007 209.488.423 192 18.169 192 40v216h-8V80.790c0-22.430-18.356-41.212-40.781-40.783C121.488 40.423 104 58.169 104 80v235.992l-31.648-43.519c-12.993-17.866-38.009-21.817-55.877-8.823-17.865 12.994-21.815 38.010-8.822 55.877l125.601 172.705A48 48 0 0 0 172.073 512h197.590c22.274 0 41.622-15.324 46.724-37.006l26.508-112.660a192.011 192.011 0 0 0 5.104-43.975V168c.001-21.831-17.487-39.577-39.218-39.993z"/></svg>
<svg class="i" style="left:1841.8px;top:321px" width="36" height="32" viewBox="0 0 36 32"><path fill="#dcdcdc" d="M12.100 8.200Q12.200 5.500 15.100 5.500Q18.200 5.600 18 8.500C17.600 12 15.900 15 14.900 17.500L18.600 19.500L15.600 24L6.300 21.600L6.100 16.200L11.200 16.700Z"/><rect x="5.950" y="25.100" width="11" height="1.700" fill="#dcdcdc"/><path d="M22.170 5.340A6 6 0 1 1 17.980 14.740" fill="none" stroke="#dcdcdc" stroke-width="0.950"/><path d="M22.300 7.400V11.900H25.800" fill="none" stroke="#dcdcdc" stroke-width="1.400"/></svg>
<svg class="i" style="left:1894.1px;top:326.35px" width="6" height="15.3" viewBox="0 0 6 15.3"><circle cx="3" cy="3" r="2.05" fill="#16181b"/><circle cx="3" cy="7.65" r="2.05" fill="#16181b"/><circle cx="3" cy="12.3" r="2.05" fill="#16181b"/></svg>
<div class="b" style="left:84px;top:363px;width:8px;height:44px;background:#f58a34"></div>
<div class="b" style="left:92px;top:405px;width:1820px;height:2px;background:#dce1e6"></div>
<div class="b" style="left:97.3px;top:373px;width:13.5px;height:13.5px;background:#fff;border:2px solid #85859a;border-radius:3px"></div>
<svg class="i" style="left:132.80px;top:373.00px;" width="15.40" height="15.40" viewBox="0 0 512 512"><path fill="#ff8800" d="M504 256c0 136.967-111.033 248-248 248S8 392.967 8 256 119.033 8 256 8s248 111.033 248 248zM227.314 387.314l184-184c6.248-6.248 6.248-16.379 0-22.627l-22.627-22.627c-6.248-6.249-16.379-6.249-22.628 0L216 308.118l-70.059-70.059c-6.248-6.248-16.379-6.248-22.628 0l-22.627 22.627c-6.248 6.248-6.248 16.379 0 22.627l104 104c6.249 6.249 16.379 6.249 22.628.001z"/></svg>
<svg class="i" style="left:149.2px;top:373.5px" width="4" height="15" viewBox="0 0 4 15"><path fill="#ff8800" d="M0.200 0h3.600L3 10H1z"/><circle cx="2" cy="12.900" r="1.750" fill="#ff8800"/></svg>
<div class="b" style="left:183px;top:372px;width:16px;height:16px;background:#2f80fa"></div>
<div class="b" style="left:189.7px;top:375px;width:2px;height:10px;background:#fff"></div>
<svg class="i" style="left:218px;top:372px" width="13" height="16" viewBox="0 0 13 16"><circle cx="4.900" cy="2.100" r="2" fill="#ff0000"/><path fill="#ff0000" d="M3.200 5.300h2.900v2.600L4.300 9.800l-1.100-.3z"/><path fill="#ff0000" d="M0 11.500h2.300L8.600 5.200H13v3H9.800L3.500 14.500H0z"/><path d="M7.200 15L12.300 9.900" stroke="#ff0000" stroke-width="0.900" fill="none"/></svg>
<span class="t " style="left:251.30px;top:372.10px;font-size:13px;color:#1b75cc;transform:scale(0.9451,1);">100013</span>
<span class="t " style="left:431.20px;top:372.10px;font-size:13px;color:#444;font-weight:bold;transform:scale(0.9952,1);">Incident</span>
<span class="t " style="left:513.00px;top:372.10px;font-size:13px;color:#444;font-weight:bold;transform:scale(1.0267,1);">07/05/23 10:35</span>
<span class="t " style="left:617.00px;top:372.10px;font-size:13px;color:#444;font-weight:bold;transform:scale(0.9791,1);">1 Days 21 Hrs</span>
<span class="t " style="left:734.00px;top:372.10px;font-size:13px;color:#444;font-weight:bold;transform:scale(1.0267,1);">07/07/23 10:36</span>
<span class="t " style="left:852.30px;top:372.10px;font-size:13px;color:#444;font-weight:bold;transform:scale(0.9848,1);">Pending</span>
<span class="t " style="left:935.20px;top:372.10px;font-size:13px;color:#444;font-weight:bold;transform:scale(1.0144,1);">High</span>
<span class="t " style="left:1024.20px;top:372.10px;font-size:13px;color:#444;font-weight:bold;transform:scale(0.9586,1);">Service Desk</span>
<span class="t " style="left:1163.20px;top:372.10px;font-size:13px;color:#444;font-weight:bold;transform:scale(0.9786,1);">super one</span>
<span class="t " style="left:1287.30px;top:372.10px;font-size:13px;color:#444;font-weight:bold;transform:scale(1.0263,1);">Default Incident...</span>
<span class="t " style="left:1411.20px;top:372.10px;font-size:13px;color:#444;font-weight:bold;transform:scale(0.9830,1);">customer one</span>
<span class="t " style="left:1639.00px;top:372.10px;font-size:13px;color:#444;font-weight:bold;transform:scale(1.0137,1);">Test Quick Call with DF...</span>
<svg class="i" style="left:1805.00px;top:369.00px;" width="19.25" height="22.00" viewBox="0 0 448 512"><path fill="#dcdcdc" d="M408.781 128.007C386.356 127.578 368 146.360 368 168.790V256h-8V79.790c0-22.430-18.356-41.212-40.781-40.783C297.488 39.423 280 57.169 280 79v177h-8V40.790C272 18.360 253.644-.422 231.219.007 209.488.423 192 18.169 192 40v216h-8V80.790c0-22.430-18.356-41.212-40.781-40.783C121.488 40.423 104 58.169 104 80v235.992l-31.648-43.519c-12.993-17.866-38.009-21.817-55.877-8.823-17.865 12.994-21.815 38.010-8.822 55.877l125.601 172.705A48 48 0 0 0 172.073 512h197.590c22.274 0 41.622-15.324 46.724-37.006l26.508-112.660a192.011 192.011 0 0 0 5.104-43.975V168c.001-21.831-17.487-39.577-39.218-39.993z"/></svg>
<svg class="i" style="left:1841.8px;top:365px" width="36" height="32" viewBox="0 0 36 32"><path fill="#dcdcdc" d="M12.100 8.200Q12.200 5.500 15.100 5.500Q18.200 5.600 18 8.500C17.600 12 15.900 15 14.900 17.500L18.600 19.500L15.600 24L6.300 21.600L6.100 16.200L11.200 16.700Z"/><rect x="5.950" y="25.100" width="11" height="1.700" fill="#dcdcdc"/><path d="M22.170 5.340A6 6 0 1 1 17.980 14.740" fill="none" stroke="#dcdcdc" stroke-width="0.950"/><path d="M22.300 7.400V11.900H25.800" fill="none" stroke="#dcdcdc" stroke-width="1.400"/></svg>
<svg class="i" style="left:1894.1px;top:370.35px" width="6" height="15.3" viewBox="0 0 6 15.3"><circle cx="3" cy="3" r="2.05" fill="#16181b"/><circle cx="3" cy="7.65" r="2.05" fill="#16181b"/><circle cx="3" cy="12.3" r="2.05" fill="#16181b"/></svg>
<div class="b" style="left:84px;top:407px;width:8px;height:43px;background:#f58a34"></div>
<div class="b" style="left:92px;top:448px;width:1820px;height:2px;background:#dce1e6"></div>
<div class="b" style="left:97.3px;top:417px;width:13.5px;height:13.5px;background:#fff;border:2px solid #85859a;border-radius:3px"></div>
<svg class="i" style="left:132.80px;top:417.00px;" width="15.40" height="15.40" viewBox="0 0 512 512"><path fill="#dedede" d="M504 256c0 136.967-111.033 248-248 248S8 392.967 8 256 119.033 8 256 8s248 111.033 248 248zM227.314 387.314l184-184c6.248-6.248 6.248-16.379 0-22.627l-22.627-22.627c-6.248-6.249-16.379-6.249-22.628 0L216 308.118l-70.059-70.059c-6.248-6.248-16.379-6.248-22.628 0l-22.627 22.627c-6.248 6.248-6.248 16.379 0 22.627l104 104c6.249 6.249 16.379 6.249 22.628.001z"/></svg>
<svg class="i" style="left:149.2px;top:417.5px" width="4" height="15" viewBox="0 0 4 15"><path fill="#dedede" d="M0.200 0h3.600L3 10H1z"/><circle cx="2" cy="12.900" r="1.750" fill="#dedede"/></svg>
<div class="b" style="left:183px;top:416px;width:16px;height:16px;background:#2f80fa"></div>
<div class="b" style="left:189.7px;top:419px;width:2px;height:10px;background:#fff"></div>
<svg class="i" style="left:218px;top:415px" width="13" height="16" viewBox="0 0 13 16"><circle cx="4.900" cy="2.100" r="2" fill="#e2e2e2"/><path fill="#e2e2e2" d="M3.200 5.300h2.900v2.600L4.300 9.800l-1.100-.3z"/><path fill="#e2e2e2" d="M0 11.500h2.300L8.600 5.200H13v3H9.800L3.500 14.500H0z"/><path d="M7.200 15L12.300 9.900" stroke="#e2e2e2" stroke-width="0.900" fill="none"/></svg>
<span class="t " style="left:251.30px;top:416.10px;font-size:13px;color:#1b75cc;transform:scale(0.9451,1);">100012</span>
<span class="t " style="left:431.20px;top:416.10px;font-size:13px;color:#444;font-weight:bold;transform:scale(0.9952,1);">Incident</span>
<span class="t " style="left:513.00px;top:416.10px;font-size:13px;color:#444;font-weight:bold;transform:scale(1.0267,1);">07/05/23 10:34</span>
<span class="t " style="left:617.00px;top:416.10px;font-size:13px;color:#444;font-weight:bold;transform:scale(0.9624,1);">00:00</span>
<span class="t " style="left:734.00px;top:416.10px;font-size:13px;color:#444;font-weight:bold;transform:scale(1.0267,1);">07/07/23 10:34</span>
<span class="t " style="left:852.30px;top:416.10px;font-size:13px;color:#444;font-weight:bold;transform:scale(1.0149,1);">On Hold</span>
<span class="t " style="left:935.20px;top:416.10px;font-size:13px;color:#444;font-weight:bold;transform:scale(1.0144,1);">High</span>
<span class="t " style="left:1024.20px;top:416.10px;font-size:13px;color:#444;font-weight:bold;transform:scale(0.9854,1);">ZENworks Wake O...</span>
<span class="t " style="left:1163.20px;top:416.10px;font-size:13px;color:#444;font-weight:bold;transform:scale(0.9900,1);">tech two</span>
<span class="t " style="left:1287.30px;top:416.10px;font-size:13px;color:#444;font-weight:bold;transform:scale(1.0263,1);">Default Incident...</span>
<span class="t " style="left:1411.20px;top:416.10px;font-size:13px;color:#444;font-weight:bold;transform:scale(0.9830,1);">customer one</span>
<svg class="i" style="left:1805.00px;top:413.00px;" width="19.25" height="22.00" viewBox="0 0 448 512"><path fill="#dcdcdc" d="M408.781 128.007C386.356 127.578 368 146.360 368 168.790V256h-8V79.790c0-22.430-18.356-41.212-40.781-40.783C297.488 39.423 280 57.169 280 79v177h-8V40.790C272 18.360 253.644-.422 231.219.007 209.488.423 192 18.169 192 40v216h-8V80.790c0-22.430-18.356-41.212-40.781-40.783C121.488 40.423 104 58.169 104 80v235.992l-31.648-43.519c-12.993-17.866-38.009-21.817-55.877-8.823-17.865 12.994-21.815 38.010-8.822 55.877l125.601 172.705A48 48 0 0 0 172.073 512h197.590c22.274 0 41.622-15.324 46.724-37.006l26.508-112.660a192.011 192.011 0 0 0 5.104-43.975V168c.001-21.831-17.487-39.577-39.218-39.993z"/></svg>
<svg class="i" style="left:1841.8px;top:409px" width="36" height="32" viewBox="0 0 36 32"><path fill="#dcdcdc" d="M12.100 8.200Q12.200 5.500 15.100 5.500Q18.200 5.600 18 8.500C17.600 12 15.900 15 14.900 17.500L18.600 19.500L15.600 24L6.300 21.600L6.100 16.200L11.200 16.700Z"/><rect x="5.950" y="25.100" width="11" height="1.700" fill="#dcdcdc"/><path d="M22.170 5.340A6 6 0 1 1 17.980 14.740" fill="none" stroke="#dcdcdc" stroke-width="0.950"/><path d="M22.300 7.400V11.900H25.800" fill="none" stroke="#dcdcdc" stroke-width="1.400"/></svg>
<svg class="i" style="left:1894.1px;top:414.35px" width="6" height="15.3" viewBox="0 0 6 15.3"><circle cx="3" cy="3" r="2.05" fill="#16181b"/><circle cx="3" cy="7.65" r="2.05" fill="#16181b"/><circle cx="3" cy="12.3" r="2.05" fill="#16181b"/></svg>
<div class="b" style="left:84px;top:450px;width:8px;height:44px;background:#f58a34"></div>
<div class="b" style="left:92px;top:492px;width:1820px;height:2px;background:#dce1e6"></div>
<div class="b" style="left:97.3px;top:460px;width:13.5px;height:13.5px;background:#fff;border:2px solid #85859a;border-radius:3px"></div>
<svg class="i" style="left:132.80px;top:460.00px;" width="15.40" height="15.40" viewBox="0 0 512 512"><path fill="#ff8800" d="M504 256c0 136.967-111.033 248-248 248S8 392.967 8 256 119.033 8 256 8s248 111.033 248 248zM227.314 387.314l184-184c6.248-6.248 6.248-16.379 0-22.627l-22.627-22.627c-6.248-6.249-16.379-6.249-22.628 0L216 308.118l-70.059-70.059c-6.248-6.248-16.379-6.248-22.628 0l-22.627 22.627c-6.248 6.248-6.248 16.379 0 22.627l104 104c6.249 6.249 16.379 6.249 22.628.001z"/></svg>
<svg class="i" style="left:149.2px;top:460.5px" width="4" height="15" viewBox="0 0 4 15"><path fill="#ff8800" d="M0.200 0h3.600L3 10H1z"/><circle cx="2" cy="12.900" r="1.750" fill="#ff8800"/></svg>
<div class="b" style="left:183px;top:459px;width:16px;height:16px;background:#2f80fa"></div>
<div class="b" style="left:189.7px;top:462px;width:2px;height:10px;background:#fff"></div>
<svg class="i" style="left:218px;top:459px" width="13" height="16" viewBox="0 0 13 16"><circle cx="4.900" cy="2.100" r="2" fill="#ff0000"/><path fill="#ff0000" d="M3.200 5.300h2.900v2.600L4.300 9.800l-1.100-.3z"/><path fill="#ff0000" d="M0 11.500h2.300L8.600 5.200H13v3H9.800L3.500 14.500H0z"/><path d="M7.200 15L12.300 9.900" stroke="#ff0000" stroke-width="0.900" fill="none"/></svg>
<span class="t " style="left:251.30px;top:459.10px;font-size:13px;color:#1b75cc;transform:scale(0.9666,1);">100011</span>
<span class="t " style="left:431.20px;top:459.10px;font-size:13px;color:#444;font-weight:bold;transform:scale(0.9952,1);">Incident</span>
<span class="t " style="left:513.00px;top:459.10px;font-size:13px;color:#444;font-weight:bold;transform:scale(1.0267,1);">07/05/23 10:33</span>
<span class="t " style="left:617.00px;top:459.10px;font-size:13px;color:#444;font-weight:bold;transform:scale(0.9791,1);">1 Days 21 Hrs</span>
<span class="t " style="left:734.00px;top:459.10px;font-size:13px;color:#444;font-weight:bold;transform:scale(1.0267,1);">07/07/23 10:34</span>
<span class="t " style="left:852.30px;top:459.10px;font-size:13px;color:#444;font-weight:bold;transform:scale(0.9848,1);">Pending</span>
<span class="t " style="left:935.20px;top:459.10px;font-size:13px;color:#444;font-weight:bold;transform:scale(1.0144,1);">High</span>
<span class="t " style="left:1024.20px;top:459.10px;font-size:13px;color:#444;font-weight:bold;transform:scale(0.9586,1);">Service Desk</span>
<span class="t " style="left:1163.20px;top:459.10px;font-size:13px;color:#444;font-weight:bold;transform:scale(0.9596,1);">Kamal Kushwaha</span>
<span class="t " style="left:1287.30px;top:459.10px;font-size:13px;color:#444;font-weight:bold;transform:scale(1.0263,1);">Default Incident...</span>
<span class="t " style="left:1411.20px;top:459.10px;font-size:13px;color:#444;font-weight:bold;transform:scale(0.9830,1);">customer one</span>
<svg class="i" style="left:1805.00px;top:456.00px;" width="19.25" height="22.00" viewBox="0 0 448 512"><path fill="#dcdcdc" d="M408.781 128.007C386.356 127.578 368 146.360 368 168.790V256h-8V79.790c0-22.430-18.356-41.212-40.781-40.783C297.488 39.423 280 57.169 280 79v177h-8V40.790C272 18.360 253.644-.422 231.219.007 209.488.423 192 18.169 192 40v216h-8V80.790c0-22.430-18.356-41.212-40.781-40.783C121.488 40.423 104 58.169 104 80v235.992l-31.648-43.519c-12.993-17.866-38.009-21.817-55.877-8.823-17.865 12.994-21.815 38.010-8.822 55.877l125.601 172.705A48 48 0 0 0 172.073 512h197.590c22.274 0 41.622-15.324 46.724-37.006l26.508-112.660a192.011 192.011 0 0 0 5.104-43.975V168c.001-21.831-17.487-39.577-39.218-39.993z"/></svg>
<svg class="i" style="left:1841.8px;top:452px" width="36" height="32" viewBox="0 0 36 32"><path fill="#dcdcdc" d="M12.100 8.200Q12.200 5.500 15.100 5.500Q18.200 5.600 18 8.500C17.600 12 15.900 15 14.900 17.500L18.600 19.500L15.600 24L6.300 21.600L6.100 16.200L11.200 16.700Z"/><rect x="5.950" y="25.100" width="11" height="1.700" fill="#dcdcdc"/><path d="M22.170 5.340A6 6 0 1 1 17.980 14.740" fill="none" stroke="#dcdcdc" stroke-width="0.950"/><path d="M22.300 7.400V11.900H25.800" fill="none" stroke="#dcdcdc" stroke-width="1.400"/></svg>
<svg class="i" style="left:1894.1px;top:457.35px" width="6" height="15.3" viewBox="0 0 6 15.3"><circle cx="3" cy="3" r="2.05" fill="#16181b"/><circle cx="3" cy="7.65" r="2.05" fill="#16181b"/><circle cx="3" cy="12.3" r="2.05" fill="#16181b"/></svg>
<div class="b" style="left:84px;top:494px;width:8px;height:44px;background:#f58a34"></div>
<div class="b" style="left:92px;top:536px;width:1820px;height:2px;background:#dce1e6"></div>
<div class="b" style="left:97.3px;top:504px;width:13.5px;height:13.5px;background:#fff;border:2px solid #85859a;border-radius:3px"></div>
<svg class="i" style="left:132.80px;top:504.00px;" width="15.40" height="15.40" viewBox="0 0 512 512"><path fill="#ff8800" d="M504 256c0 136.967-111.033 248-248 248S8 392.967 8 256 119.033 8 256 8s248 111.033 248 248zM227.314 387.314l184-184c6.248-6.248 6.248-16.379 0-22.627l-22.627-22.627c-6.248-6.249-16.379-6.249-22.628 0L216 308.118l-70.059-70.059c-6.248-6.248-16.379-6.248-22.628 0l-22.627 22.627c-6.248 6.248-6.248 16.379 0 22.627l104 104c6.249 6.249 16.379 6.249 22.628.001z"/></svg>
<svg class="i" style="left:149.2px;top:504.5px" width="4" height="15" viewBox="0 0 4 15"><path fill="#ff8800" d="M0.200 0h3.600L3 10H1z"/><circle cx="2" cy="12.900" r="1.750" fill="#ff8800"/></svg>
<div class="b" style="left:183px;top:503px;width:16px;height:16px;background:#2f80fa"></div>
<div class="b" style="left:189.7px;top:506px;width:2px;height:10px;background:#fff"></div>
<svg class="i" style="left:218px;top:503px" width="13" height="16" viewBox="0 0 13 16"><circle cx="4.900" cy="2.100" r="2" fill="#ff0000"/><path fill="#ff0000" d="M3.200 5.300h2.900v2.600L4.300 9.800l-1.100-.3z"/><path fill="#ff0000" d="M0 11.500h2.300L8.600 5.200H13v3H9.800L3.500 14.500H0z"/><path d="M7.200 15L12.300 9.900" stroke="#ff0000" stroke-width="0.900" fill="none"/></svg>
<span class="t " style="left:251.30px;top:503.10px;font-size:13px;color:#1b75cc;transform:scale(0.9451,1);">100010</span>
<span class="t " style="left:431.20px;top:503.10px;font-size:13px;color:#444;font-weight:bold;transform:scale(0.9952,1);">Incident</span>
<span class="t " style="left:513.00px;top:503.10px;font-size:13px;color:#444;font-weight:bold;transform:scale(1.0267,1);">07/05/23 10:32</span>
<span class="t " style="left:617.00px;top:503.10px;font-size:13px;color:#444;font-weight:bold;transform:scale(0.9791,1);">1 Days 21 Hrs</span>
<span class="t " style="left:734.00px;top:503.10px;font-size:13px;color:#444;font-weight:bold;transform:scale(1.0267,1);">07/07/23 10:33</span>
<span class="t " style="left:852.30px;top:503.10px;font-size:13px;color:#444;font-weight:bold;transform:scale(0.9848,1);">Pending</span>
<span class="t " style="left:935.20px;top:503.10px;font-size:13px;color:#444;font-weight:bold;transform:scale(1.0144,1);">High</span>
<span class="t " style="left:1024.20px;top:503.10px;font-size:13px;color:#444;font-weight:bold;transform:scale(0.9854,1);">ZENworks Wake O...</span>
<span class="t " style="left:1163.20px;top:503.10px;font-size:13px;color:#444;font-weight:bold;transform:scale(0.9786,1);">super one</span>
<span class="t " style="left:1287.30px;top:503.10px;font-size:13px;color:#444;font-weight:bold;transform:scale(1.0263,1);">Default Incident...</span>
<span class="t " style="left:1411.20px;top:503.10px;font-size:13px;color:#444;font-weight:bold;transform:scale(0.9830,1);">customer one</span>
<span class="t " style="left:1639.00px;top:503.10px;font-size:13px;color:#444;font-weight:bold;transform:scale(0.9892,1);">Test Request with DF</span>
<svg class="i" style="left:1805.00px;top:500.00px;" width="19.25" height="22.00" viewBox="0 0 448 512"><path fill="#dcdcdc" d="M408.781 128.007C386.356 127.578 368 146.360 368 168.790V256h-8V79.790c0-22.430-18.356-41.212-40.781-40.783C297.488 39.423 280 57.169 280 79v177h-8V40.790C272 18.360 253.644-.422 231.219.007 209.488.423 192 18.169 192 40v216h-8V80.790c0-22.430-18.356-41.212-40.781-40.783C121.488 40.423 104 58.169 104 80v235.992l-31.648-43.519c-12.993-17.866-38.009-21.817-55.877-8.823-17.865 12.994-21.815 38.010-8.822 55.877l125.601 172.705A48 48 0 0 0 172.073 512h197.590c22.274 0 41.622-15.324 46.724-37.006l26.508-112.660a192.011 192.011 0 0 0 5.104-43.975V168c.001-21.831-17.487-39.577-39.218-39.993z"/></svg>
<svg class="i" style="left:1841.8px;top:496px" width="36" height="32" viewBox="0 0 36 32"><path fill="#dcdcdc" d="M12.100 8.200Q12.200 5.500 15.100 5.500Q18.200 5.600 18 8.500C17.600 12 15.900 15 14.900 17.500L18.600 19.500L15.600 24L6.300 21.600L6.100 16.200L11.200 16.700Z"/><rect x="5.950" y="25.100" width="11" height="1.700" fill="#dcdcdc"/><path d="M22.170 5.340A6 6 0 1 1 17.980 14.740" fill="none" stroke="#dcdcdc" stroke-width="0.950"/><path d="M22.300 7.400V11.900H25.800" fill="none" stroke="#dcdcdc" stroke-width="1.400"/></svg>
<svg class="i" style="left:1894.1px;top:501.35px" width="6" height="15.3" viewBox="0 0 6 15.3"><circle cx="3" cy="3" r="2.05" fill="#16181b"/><circle cx="3" cy="7.65" r="2.05" fill="#16181b"/><circle cx="3" cy="12.3" r="2.05" fill="#16181b"/></svg>
<div class="b" style="left:84px;top:538px;width:8px;height:43px;background:#d4b815"></div>
<div class="b" style="left:92px;top:579px;width:1820px;height:2px;background:#dce1e6"></div>
<div class="b" style="left:97.3px;top:547px;width:13.5px;height:13.5px;background:#fff;border:2px solid #85859a;border-radius:3px"></div>
<svg class="i" style="left:132.80px;top:547.00px;" width="15.40" height="15.40" viewBox="0 0 512 512"><path fill="#ff8800" d="M504 256c0 136.967-111.033 248-248 248S8 392.967 8 256 119.033 8 256 8s248 111.033 248 248zM227.314 387.314l184-184c6.248-6.248 6.248-16.379 0-22.627l-22.627-22.627c-6.248-6.249-16.379-6.249-22.628 0L216 308.118l-70.059-70.059c-6.248-6.248-16.379-6.248-22.628 0l-22.627 22.627c-6.248 6.248-6.248 16.379 0 22.627l104 104c6.249 6.249 16.379 6.249 22.628.001z"/></svg>
<svg class="i" style="left:149.2px;top:547.5px" width="4" height="15" viewBox="0 0 4 15"><path fill="#ff8800" d="M0.200 0h3.600L3 10H1z"/><circle cx="2" cy="12.900" r="1.750" fill="#ff8800"/></svg>
<div class="b" style="left:183px;top:546px;width:16px;height:16px;background:#14a79d"></div>
<span class="t" style="left:186.600px;top:547.2px;font-family:'Liberation Serif',serif;font-weight:bold;font-size:14px;color:#fff;transform:scaleX(0.88);transform-origin:0 0">R</span>
<svg class="i" style="left:218px;top:546px" width="13" height="16" viewBox="0 0 13 16"><circle cx="4.900" cy="2.100" r="2" fill="#ff0000"/><path fill="#ff0000" d="M3.200 5.300h2.900v2.600L4.300 9.800l-1.100-.3z"/><path fill="#ff0000" d="M0 11.500h2.300L8.600 5.200H13v3H9.800L3.500 14.500H0z"/><path d="M7.200 15L12.300 9.900" stroke="#ff0000" stroke-width="0.900" fill="none"/></svg>
<span class="t " style="left:251.30px;top:547.10px;font-size:13px;color:#1b75cc;transform:scale(0.9451,1);">100004</span>
<span class="t " style="left:431.20px;top:547.10px;font-size:13px;color:#444;font-weight:bold;transform:scale(0.9629,1);">Service R...</span>
<span class="t " style="left:513.00px;top:547.10px;font-size:13px;color:#444;font-weight:bold;transform:scale(1.0267,1);">07/04/23 10:47</span>
<span class="t " style="left:617.00px;top:547.10px;font-size:13px;color:#444;font-weight:bold;transform:scale(0.9791,1);">2 Days 21 Hrs</span>
<span class="t " style="left:734.00px;top:547.10px;font-size:13px;color:#444;font-weight:bold;transform:scale(1.0267,1);">07/07/23 10:47</span>
<span class="t " style="left:852.30px;top:547.10px;font-size:13px;color:#444;font-weight:bold;transform:scale(0.9848,1);">Pending</span>
<span class="t " style="left:935.20px;top:547.10px;font-size:13px;color:#444;font-weight:bold;transform:scale(1.0221,1);">Medium</span>
<span class="t " style="left:1024.20px;top:547.10px;font-size:13px;color:#444;font-weight:bold;transform:scale(0.9603,1);">Knowledge Base</span>
<span class="t " style="left:1163.20px;top:547.10px;font-size:13px;color:#444;font-weight:bold;transform:scale(0.9786,1);">super one</span>
<span class="t " style="left:1287.30px;top:547.10px;font-size:13px;color:#444;font-weight:bold;transform:scale(0.9402,1);">SR Team</span>
<span class="t " style="left:1411.20px;top:547.10px;font-size:13px;color:#444;font-weight:bold;transform:scale(0.9786,1);">super one</span>
<svg class="i" style="left:1805.00px;top:543.00px;" width="19.25" height="22.00" viewBox="0 0 448 512"><path fill="#dcdcdc" d="M408.781 128.007C386.356 127.578 368 146.360 368 168.790V256h-8V79.790c0-22.430-18.356-41.212-40.781-40.783C297.488 39.423 280 57.169 280 79v177h-8V40.790C272 18.360 253.644-.422 231.219.007 209.488.423 192 18.169 192 40v216h-8V80.790c0-22.430-18.356-41.212-40.781-40.783C121.488 40.423 104 58.169 104 80v235.992l-31.648-43.519c-12.993-17.866-38.009-21.817-55.877-8.823-17.865 12.994-21.815 38.010-8.822 55.877l125.601 172.705A48 48 0 0 0 172.073 512h197.590c22.274 0 41.622-15.324 46.724-37.006l26.508-112.660a192.011 192.011 0 0 0 5.104-43.975V168c.001-21.831-17.487-39.577-39.218-39.993z"/></svg>
<svg class="i" style="left:1841.8px;top:539px" width="36" height="32" viewBox="0 0 36 32"><path fill="#dcdcdc" d="M12.100 8.200Q12.200 5.500 15.100 5.500Q18.200 5.600 18 8.500C17.600 12 15.900 15 14.900 17.500L18.600 19.500L15.600 24L6.300 21.600L6.100 16.200L11.200 16.700Z"/><rect x="5.950" y="25.100" width="11" height="1.700" fill="#dcdcdc"/><path d="M22.170 5.340A6 6 0 1 1 17.980 14.740" fill="none" stroke="#dcdcdc" stroke-width="0.950"/><path d="M22.300 7.400V11.900H25.800" fill="none" stroke="#dcdcdc" stroke-width="1.400"/></svg>
<svg class="i" style="left:1894.1px;top:544.35px" width="6" height="15.3" viewBox="0 0 6 15.3"><circle cx="3" cy="3" r="2.05" fill="#16181b"/><circle cx="3" cy="7.65" r="2.05" fill="#16181b"/><circle cx="3" cy="12.3" r="2.05" fill="#16181b"/></svg>
<div class="b" style="left:84px;top:581px;width:8px;height:44px;background:#d4b815"></div>
<div class="b" style="left:92px;top:623px;width:1820px;height:2px;background:#dce1e6"></div>
<div class="b" style="left:97.3px;top:591px;width:13.5px;height:13.5px;background:#fff;border:2px solid #85859a;border-radius:3px"></div>
<svg class="i" style="left:132.80px;top:591.00px;" width="15.40" height="15.40" viewBox="0 0 512 512"><path fill="#ff8800" d="M504 256c0 136.967-111.033 248-248 248S8 392.967 8 256 119.033 8 256 8s248 111.033 248 248zM227.314 387.314l184-184c6.248-6.248 6.248-16.379 0-22.627l-22.627-22.627c-6.248-6.249-16.379-6.249-22.628 0L216 308.118l-70.059-70.059c-6.248-6.248-16.379-6.248-22.628 0l-22.627 22.627c-6.248 6.248-6.248 16.379 0 22.627l104 104c6.249 6.249 16.379 6.249 22.628.001z"/></svg>
<svg class="i" style="left:149.2px;top:591.5px" width="4" height="15" viewBox="0 0 4 15"><path fill="#ff8800" d="M0.200 0h3.600L3 10H1z"/><circle cx="2" cy="12.900" r="1.750" fill="#ff8800"/></svg>
<div class="b" style="left:183px;top:590px;width:16px;height:16px;background:#2f80fa"></div>
<div class="b" style="left:189.7px;top:593px;width:2px;height:10px;background:#fff"></div>
<svg class="i" style="left:218px;top:590px" width="13" height="16" viewBox="0 0 13 16"><circle cx="4.900" cy="2.100" r="2" fill="#ff0000"/><path fill="#ff0000" d="M3.200 5.300h2.900v2.600L4.300 9.800l-1.100-.3z"/><path fill="#ff0000" d="M0 11.500h2.300L8.600 5.200H13v3H9.800L3.500 14.500H0z"/><path d="M7.200 15L12.300 9.900" stroke="#ff0000" stroke-width="0.900" fill="none"/></svg>
<span class="t " style="left:251.30px;top:590.10px;font-size:13px;color:#1b75cc;transform:scale(0.9451,1);">100003</span>
<span class="t " style="left:431.20px;top:590.10px;font-size:13px;color:#333;transform:scale(0.9795,1);">Incident</span>
<span class="t " style="left:513.00px;top:590.10px;font-size:13px;color:#333;">06/28/23 22:55</span>
<span class="t " style="left:617.00px;top:590.10px;font-size:13px;color:#333;transform:scale(0.9762,1);">3 Days 02 Hrs</span>
<span class="t " style="left:734.00px;top:590.10px;font-size:13px;color:#333;">07/01/23 22:55</span>
<span class="t " style="left:852.30px;top:590.10px;font-size:13px;color:#333;transform:scale(0.9620,1);">Closed - R...</span>
<span class="t " style="left:935.20px;top:590.10px;font-size:13px;color:#333;transform:scale(1.0251,1);">Medium</span>
<span class="t " style="left:1024.20px;top:590.10px;font-size:13px;color:#333;transform:scale(0.9673,1);">VMware7,1</span>
<span class="t " style="left:1163.20px;top:590.10px;font-size:13px;color:#333;transform:scale(1.0083,1);">super one</span>
<span class="t " style="left:1287.30px;top:590.10px;font-size:13px;color:#333;transform:scale(0.9770,1);">Default Incident T...</span>
<span class="t " style="left:1411.20px;top:590.10px;font-size:13px;color:#333;transform:scale(1.0055,1);">customer one</span>
<span class="t " style="left:1639.00px;top:590.10px;font-size:13px;color:#333;transform:scale(0.9940,1);">item#zsdzen I am facing ...</span>
<svg class="i" style="left:1805.00px;top:587.00px;" width="19.25" height="22.00" viewBox="0 0 448 512"><path fill="#dcdcdc" d="M408.781 128.007C386.356 127.578 368 146.360 368 168.790V256h-8V79.790c0-22.430-18.356-41.212-40.781-40.783C297.488 39.423 280 57.169 280 79v177h-8V40.790C272 18.360 253.644-.422 231.219.007 209.488.423 192 18.169 192 40v216h-8V80.790c0-22.430-18.356-41.212-40.781-40.783C121.488 40.423 104 58.169 104 80v235.992l-31.648-43.519c-12.993-17.866-38.009-21.817-55.877-8.823-17.865 12.994-21.815 38.010-8.822 55.877l125.601 172.705A48 48 0 0 0 172.073 512h197.590c22.274 0 41.622-15.324 46.724-37.006l26.508-112.660a192.011 192.011 0 0 0 5.104-43.975V168c.001-21.831-17.487-39.577-39.218-39.993z"/></svg>
<svg class="i" style="left:1841.8px;top:583px" width="36" height="32" viewBox="0 0 36 32"><path fill="#dcdcdc" d="M12.100 8.200Q12.200 5.500 15.100 5.500Q18.200 5.600 18 8.500C17.600 12 15.900 15 14.900 17.500L18.600 19.500L15.600 24L6.300 21.600L6.100 16.200L11.200 16.700Z"/><rect x="5.950" y="25.100" width="11" height="1.700" fill="#dcdcdc"/><path d="M22.170 5.340A6 6 0 1 1 17.980 14.740" fill="none" stroke="#dcdcdc" stroke-width="0.950"/><path d="M22.300 7.400V11.900H25.800" fill="none" stroke="#dcdcdc" stroke-width="1.400"/></svg>
<svg class="i" style="left:1894.1px;top:588.35px" width="6" height="15.3" viewBox="0 0 6 15.3"><circle cx="3" cy="3" r="2.05" fill="#16181b"/><circle cx="3" cy="7.65" r="2.05" fill="#16181b"/><circle cx="3" cy="12.3" r="2.05" fill="#16181b"/></svg>
<div class="b" style="left:84px;top:625px;width:8px;height:43px;background:#d4b815"></div>
<div class="b" style="left:92px;top:666px;width:1820px;height:2px;background:#dce1e6"></div>
<div class="b" style="left:97.3px;top:635px;width:13.5px;height:13.5px;background:#fff;border:2px solid #85859a;border-radius:3px"></div>
<svg class="i" style="left:132.80px;top:635.00px;" width="15.40" height="15.40" viewBox="0 0 512 512"><path fill="#ff8800" d="M504 256c0 136.967-111.033 248-248 248S8 392.967 8 256 119.033 8 256 8s248 111.033 248 248zM227.314 387.314l184-184c6.248-6.248 6.248-16.379 0-22.627l-22.627-22.627c-6.248-6.249-16.379-6.249-22.628 0L216 308.118l-70.059-70.059c-6.248-6.248-16.379-6.248-22.628 0l-22.627 22.627c-6.248 6.248-6.248 16.379 0 22.627l104 104c6.249 6.249 16.379 6.249 22.628.001z"/></svg>
<svg class="i" style="left:149.2px;top:635.5px" width="4" height="15" viewBox="0 0 4 15"><path fill="#ff8800" d="M0.200 0h3.600L3 10H1z"/><circle cx="2" cy="12.900" r="1.750" fill="#ff8800"/></svg>
<div class="b" style="left:183px;top:634px;width:16px;height:16px;background:#2f80fa"></div>
<div class="b" style="left:189.7px;top:637px;width:2px;height:10px;background:#fff"></div>
<svg class="i" style="left:218px;top:633px" width="13" height="16" viewBox="0 0 13 16"><circle cx="4.900" cy="2.100" r="2" fill="#ff0000"/><path fill="#ff0000" d="M3.200 5.300h2.900v2.600L4.300 9.800l-1.100-.3z"/><path fill="#ff0000" d="M0 11.500h2.300L8.600 5.200H13v3H9.800L3.500 14.500H0z"/><path d="M7.200 15L12.300 9.900" stroke="#ff0000" stroke-width="0.900" fill="none"/></svg>
<span class="t " style="left:251.30px;top:634.10px;font-size:13px;color:#1b75cc;transform:scale(0.9451,1);">100002</span>
<span class="t " style="left:431.20px;top:634.10px;font-size:13px;color:#333;transform:scale(0.9795,1);">Incident</span>
<span class="t " style="left:513.00px;top:634.10px;font-size:13px;color:#333;">06/28/23 22:49</span>
<span class="t " style="left:617.00px;top:634.10px;font-size:13px;color:#333;transform:scale(0.9762,1);">8 Days 09 Hrs</span>
<span class="t " style="left:734.00px;top:634.10px;font-size:13px;color:#333;">07/01/23 22:49</span>
<span class="t " style="left:852.30px;top:634.10px;font-size:13px;color:#333;transform:scale(0.9704,1);">Pending</span>
<span class="t " style="left:935.20px;top:634.10px;font-size:13px;color:#333;transform:scale(1.0251,1);">Medium</span>
<span class="t " style="left:1024.20px;top:634.10px;font-size:13px;color:#333;transform:scale(0.9522,1);">Azul Zulu</span>
<span class="t " style="left:1163.20px;top:634.10px;font-size:13px;color:#333;transform:scale(0.9617,1);">Kamal Kushwaha</span>
<span class="t " style="left:1287.30px;top:634.10px;font-size:13px;color:#333;transform:scale(0.9770,1);">Default Incident T...</span>
<span class="t " style="left:1411.20px;top:634.10px;font-size:13px;color:#333;transform:scale(0.9617,1);">Kamal Kushwaha</span>
<span class="t " style="left:1639.00px;top:634.10px;font-size:13px;color:#333;transform:scale(1.0062,1);">Test request to incident1</span>
<svg class="i" style="left:1805.00px;top:631.00px;" width="19.25" height="22.00" viewBox="0 0 448 512"><path fill="#dcdcdc" d="M408.781 128.007C386.356 127.578 368 146.360 368 168.790V256h-8V79.790c0-22.430-18.356-41.212-40.781-40.783C297.488 39.423 280 57.169 280 79v177h-8V40.790C272 18.360 253.644-.422 231.219.007 209.488.423 192 18.169 192 40v216h-8V80.790c0-22.430-18.356-41.212-40.781-40.783C121.488 40.423 104 58.169 104 80v235.992l-31.648-43.519c-12.993-17.866-38.009-21.817-55.877-8.823-17.865 12.994-21.815 38.010-8.822 55.877l125.601 172.705A48 48 0 0 0 172.073 512h197.590c22.274 0 41.622-15.324 46.724-37.006l26.508-112.660a192.011 192.011 0 0 0 5.104-43.975V168c.001-21.831-17.487-39.577-39.218-39.993z"/></svg>
<svg class="i" style="left:1841.8px;top:627px" width="36" height="32" viewBox="0 0 36 32"><path fill="#dcdcdc" d="M12.100 8.200Q12.200 5.500 15.100 5.500Q18.200 5.600 18 8.500C17.600 12 15.900 15 14.900 17.500L18.600 19.500L15.600 24L6.300 21.600L6.100 16.200L11.200 16.700Z"/><rect x="5.950" y="25.100" width="11" height="1.700" fill="#dcdcdc"/><path d="M22.170 5.340A6 6 0 1 1 17.980 14.740" fill="none" stroke="#dcdcdc" stroke-width="0.950"/><path d="M22.300 7.400V11.900H25.800" fill="none" stroke="#dcdcdc" stroke-width="1.400"/></svg>
<svg class="i" style="left:1894.1px;top:632.35px" width="6" height="15.3" viewBox="0 0 6 15.3"><circle cx="3" cy="3" r="2.05" fill="#16181b"/><circle cx="3" cy="7.65" r="2.05" fill="#16181b"/><circle cx="3" cy="12.3" r="2.05" fill="#16181b"/></svg>
<div class="b" style="left:84px;top:668px;width:8px;height:44px;background:#d4b815"></div>
<div class="b" style="left:92px;top:710px;width:1820px;height:2px;background:#dce1e6"></div>
<div class="b" style="left:97.3px;top:678px;width:13.5px;height:13.5px;background:#fff;border:2px solid #85859a;border-radius:3px"></div>
<svg class="i" style="left:132.80px;top:678.00px;" width="15.40" height="15.40" viewBox="0 0 512 512"><path fill="#ff8800" d="M504 256c0 136.967-111.033 248-248 248S8 392.967 8 256 119.033 8 256 8s248 111.033 248 248zM227.314 387.314l184-184c6.248-6.248 6.248-16.379 0-22.627l-22.627-22.627c-6.248-6.249-16.379-6.249-22.628 0L216 308.118l-70.059-70.059c-6.248-6.248-16.379-6.248-22.628 0l-22.627 22.627c-6.248 6.248-6.248 16.379 0 22.627l104 104c6.249 6.249 16.379 6.249 22.628.001z"/></svg>
<svg class="i" style="left:149.2px;top:678.5px" width="4" height="15" viewBox="0 0 4 15"><path fill="#ff8800" d="M0.200 0h3.600L3 10H1z"/><circle cx="2" cy="12.900" r="1.750" fill="#ff8800"/></svg>
<div class="b" style="left:183px;top:677px;width:16px;height:16px;background:#2f80fa"></div>
<div class="b" style="left:189.7px;top:680px;width:2px;height:10px;background:#fff"></div>
<svg class="i" style="left:218px;top:677px" width="13" height="16" viewBox="0 0 13 16"><circle cx="4.900" cy="2.100" r="2" fill="#ff0000"/><path fill="#ff0000" d="M3.200 5.300h2.900v2.600L4.300 9.800l-1.100-.3z"/><path fill="#ff0000" d="M0 11.500h2.300L8.600 5.200H13v3H9.800L3.500 14.500H0z"/><path d="M7.200 15L12.300 9.900" stroke="#ff0000" stroke-width="0.900" fill="none"/></svg>
<span class="t " style="left:251.30px;top:677.10px;font-size:13px;color:#1b75cc;transform:scale(0.9451,1);">100001</span>
<span class="t " style="left:431.20px;top:677.10px;font-size:13px;color:#333;transform:scale(0.9795,1);">Incident</span>
<span class="t " style="left:513.00px;top:677.10px;font-size:13px;color:#333;">06/28/23 22:47</span>
<span class="t " style="left:617.00px;top:677.10px;font-size:13px;color:#333;transform:scale(0.9762,1);">3 Days 02 Hrs</span>
<span class="t " style="left:734.00px;top:677.10px;font-size:13px;color:#333;">07/01/23 22:47</span>
<span class="t " style="left:852.30px;top:677.10px;font-size:13px;color:#333;transform:scale(0.9620,1);">Closed - R...</span>
<span class="t " style="left:935.20px;top:677.10px;font-size:13px;color:#333;transform:scale(1.0251,1);">Medium</span>
<span class="t " style="left:1024.20px;top:677.10px;font-size:13px;color:#333;transform:scale(0.9673,1);">VMware7,1</span>
<span class="t " style="left:1163.20px;top:677.10px;font-size:13px;color:#333;transform:scale(1.0083,1);">super one</span>
<span class="t " style="left:1287.30px;top:677.10px;font-size:13px;color:#333;transform:scale(0.9770,1);">Default Incident T...</span>
<span class="t " style="left:1411.20px;top:677.10px;font-size:13px;color:#333;transform:scale(0.9617,1);">Kamal Kushwaha</span>
<span class="t " style="left:1639.00px;top:677.10px;font-size:13px;color:#333;transform:scale(1.0125,1);">test request from email ...</span>
<svg class="i" style="left:1805.00px;top:674.00px;" width="19.25" height="22.00" viewBox="0 0 448 512"><path fill="#dcdcdc" d="M408.781 128.007C386.356 127.578 368 146.360 368 168.790V256h-8V79.790c0-22.430-18.356-41.212-40.781-40.783C297.488 39.423 280 57.169 280 79v177h-8V40.790C272 18.360 253.644-.422 231.219.007 209.488.423 192 18.169 192 40v216h-8V80.790c0-22.430-18.356-41.212-40.781-40.783C121.488 40.423 104 58.169 104 80v235.992l-31.648-43.519c-12.993-17.866-38.009-21.817-55.877-8.823-17.865 12.994-21.815 38.010-8.822 55.877l125.601 172.705A48 48 0 0 0 172.073 512h197.590c22.274 0 41.622-15.324 46.724-37.006l26.508-112.660a192.011 192.011 0 0 0 5.104-43.975V168c.001-21.831-17.487-39.577-39.218-39.993z"/></svg>
<svg class="i" style="left:1841.8px;top:670px" width="36" height="32" viewBox="0 0 36 32"><path fill="#dcdcdc" d="M12.100 8.200Q12.200 5.500 15.100 5.500Q18.200 5.600 18 8.500C17.600 12 15.900 15 14.900 17.500L18.600 19.500L15.600 24L6.300 21.600L6.100 16.200L11.200 16.700Z"/><rect x="5.950" y="25.100" width="11" height="1.700" fill="#dcdcdc"/><path d="M22.170 5.340A6 6 0 1 1 17.980 14.740" fill="none" stroke="#dcdcdc" stroke-width="0.950"/><path d="M22.300 7.400V11.900H25.800" fill="none" stroke="#dcdcdc" stroke-width="1.400"/></svg>
<svg class="i" style="left:1894.1px;top:675.35px" width="6" height="15.3" viewBox="0 0 6 15.3"><circle cx="3" cy="3" r="2.05" fill="#16181b"/><circle cx="3" cy="7.65" r="2.05" fill="#16181b"/><circle cx="3" cy="12.3" r="2.05" fill="#16181b"/></svg>
<div class="b" style="left:84px;top:712px;width:8px;height:44px;background:#d4b815"></div>
<div class="b" style="left:92px;top:754px;width:1820px;height:2px;background:#dce1e6"></div>
<div class="b" style="left:97.3px;top:722px;width:13.5px;height:13.5px;background:#fff;border:2px solid #85859a;border-radius:3px"></div>
<svg class="i" style="left:132.80px;top:722.00px;" width="15.40" height="15.40" viewBox="0 0 512 512"><path fill="#ff8800" d="M504 256c0 136.967-111.033 248-248 248S8 392.967 8 256 119.033 8 256 8s248 111.033 248 248zM227.314 387.314l184-184c6.248-6.248 6.248-16.379 0-22.627l-22.627-22.627c-6.248-6.249-16.379-6.249-22.628 0L216 308.118l-70.059-70.059c-6.248-6.248-16.379-6.248-22.628 0l-22.627 22.627c-6.248 6.248-6.248 16.379 0 22.627l104 104c6.249 6.249 16.379 6.249 22.628.001z"/></svg>
<svg class="i" style="left:149.2px;top:722.5px" width="4" height="15" viewBox="0 0 4 15"><path fill="#ff8800" d="M0.200 0h3.600L3 10H1z"/><circle cx="2" cy="12.900" r="1.750" fill="#ff8800"/></svg>
<div class="b" style="left:183px;top:721px;width:16px;height:16px;background:#2f80fa"></div>
<div class="b" style="left:189.7px;top:724px;width:2px;height:10px;background:#fff"></div>
<svg class="i" style="left:218px;top:721px" width="13" height="16" viewBox="0 0 13 16"><circle cx="4.900" cy="2.100" r="2" fill="#ff0000"/><path fill="#ff0000" d="M3.200 5.300h2.900v2.600L4.300 9.800l-1.100-.3z"/><path fill="#ff0000" d="M0 11.500h2.300L8.600 5.200H13v3H9.800L3.500 14.500H0z"/><path d="M7.200 15L12.300 9.900" stroke="#ff0000" stroke-width="0.900" fill="none"/></svg>
<span class="t " style="left:251.30px;top:721.10px;font-size:13px;color:#1b75cc;transform:scale(0.9451,1);">100000</span>
<span class="t " style="left:431.20px;top:721.10px;font-size:13px;color:#333;transform:scale(0.9795,1);">Incident</span>
<span class="t " style="left:513.00px;top:721.10px;font-size:13px;color:#333;">06/28/23 22:45</span>
<span class="t " style="left:617.00px;top:721.10px;font-size:13px;color:#333;transform:scale(0.9762,1);">8 Days 09 Hrs</span>
<span class="t " style="left:734.00px;top:721.10px;font-size:13px;color:#333;">07/01/23 22:45</span>
<span class="t " style="left:852.30px;top:721.10px;font-size:13px;color:#333;transform:scale(0.9704,1);">Pending</span>
<span class="t " style="left:935.20px;top:721.10px;font-size:13px;color:#333;transform:scale(1.0251,1);">Medium</span>
<span class="t " style="left:1024.20px;top:721.10px;font-size:13px;color:#333;transform:scale(0.9673,1);">VMware7,1</span>
<span class="t " style="left:1163.20px;top:721.10px;font-size:13px;color:#333;transform:scale(0.9617,1);">Kamal Kushwaha</span>
<span class="t " style="left:1287.30px;top:721.10px;font-size:13px;color:#333;transform:scale(0.9770,1);">Default Incident T...</span>
<span class="t " style="left:1411.20px;top:721.10px;font-size:13px;color:#333;transform:scale(0.9617,1);">Kamal Kushwaha</span>
<span class="t " style="left:1639.00px;top:721.10px;font-size:13px;color:#333;transform:scale(1.0192,1);">Test request from email</span>
<svg class="i" style="left:1805.00px;top:718.00px;" width="19.25" height="22.00" viewBox="0 0 448 512"><path fill="#dcdcdc" d="M408.781 128.007C386.356 127.578 368 146.360 368 168.790V256h-8V79.790c0-22.430-18.356-41.212-40.781-40.783C297.488 39.423 280 57.169 280 79v177h-8V40.790C272 18.360 253.644-.422 231.219.007 209.488.423 192 18.169 192 40v216h-8V80.790c0-22.430-18.356-41.212-40.781-40.783C121.488 40.423 104 58.169 104 80v235.992l-31.648-43.519c-12.993-17.866-38.009-21.817-55.877-8.823-17.865 12.994-21.815 38.010-8.822 55.877l125.601 172.705A48 48 0 0 0 172.073 512h197.590c22.274 0 41.622-15.324 46.724-37.006l26.508-112.660a192.011 192.011 0 0 0 5.104-43.975V168c.001-21.831-17.487-39.577-39.218-39.993z"/></svg>
<svg class="i" style="left:1841.8px;top:714px" width="36" height="32" viewBox="0 0 36 32"><path fill="#dcdcdc" d="M12.100 8.200Q12.200 5.500 15.100 5.500Q18.200 5.600 18 8.500C17.600 12 15.900 15 14.900 17.500L18.600 19.500L15.600 24L6.300 21.600L6.100 16.200L11.200 16.700Z"/><rect x="5.950" y="25.100" width="11" height="1.700" fill="#dcdcdc"/><path d="M22.170 5.340A6 6 0 1 1 17.980 14.740" fill="none" stroke="#dcdcdc" stroke-width="0.950"/><path d="M22.300 7.400V11.900H25.800" fill="none" stroke="#dcdcdc" stroke-width="1.400"/></svg>
<svg class="i" style="left:1894.1px;top:719.35px" width="6" height="15.3" viewBox="0 0 6 15.3"><circle cx="3" cy="3" r="2.05" fill="#16181b"/><circle cx="3" cy="7.65" r="2.05" fill="#16181b"/><circle cx="3" cy="12.3" r="2.05" fill="#16181b"/></svg>
<span class="t " style="left:901.60px;top:776.15px;font-size:14px;color:#212529;font-weight:bold;transform:scale(1.0020,1);">No More Records To Display.</span>
<div class="b" style="left:84px;top:809px;width:1828px;height:2px;background:#dce1e6"></div>
<div class="b" style="left:1787px;top:808.700px;width:53.300px;height:50.300px;border-radius:50%;background:#0578f0"></div>
<svg class="i" style="left:1800.00px;top:823.30px;" width="27.22" height="24.20" viewBox="0 0 576 512"><path fill="#fff" d="M402.6 83.2l90.2 90.2c3.8 3.8 3.8 10 0 13.8L274.4 405.6l-92.8 10.3c-12.4 1.4-22.9-9.1-21.5-21.5l10.3-92.8L388.8 83.2c3.8-3.8 10-3.8 13.8 0zm162-22.900l-48.8-48.8c-15.200-15.200-39.900-15.200-55.200 0l-35.400 35.400c-3.800 3.800-3.800 10 0 13.800l90.200 90.200c3.800 3.800 10 3.800 13.800 0l35.400-35.400c15.200-15.300 15.200-40 0-55.200zM384 346.200V448H64V128h229.800c3.200 0 6.200-1.300 8.500-3.500l40-40c7.600-7.600 2.200-20.500-8.500-20.500H48C21.500 64 0 85.500 0 112v352c0 26.500 21.500 48 48 48h352c26.500 0 48-21.500 48-48V306.200c0-10.700-12.900-16-20.500-8.500l-40 40c-2.200 2.300-3.500 5.300-3.500 8.500z"/></svg>
</div>
</body></html>
